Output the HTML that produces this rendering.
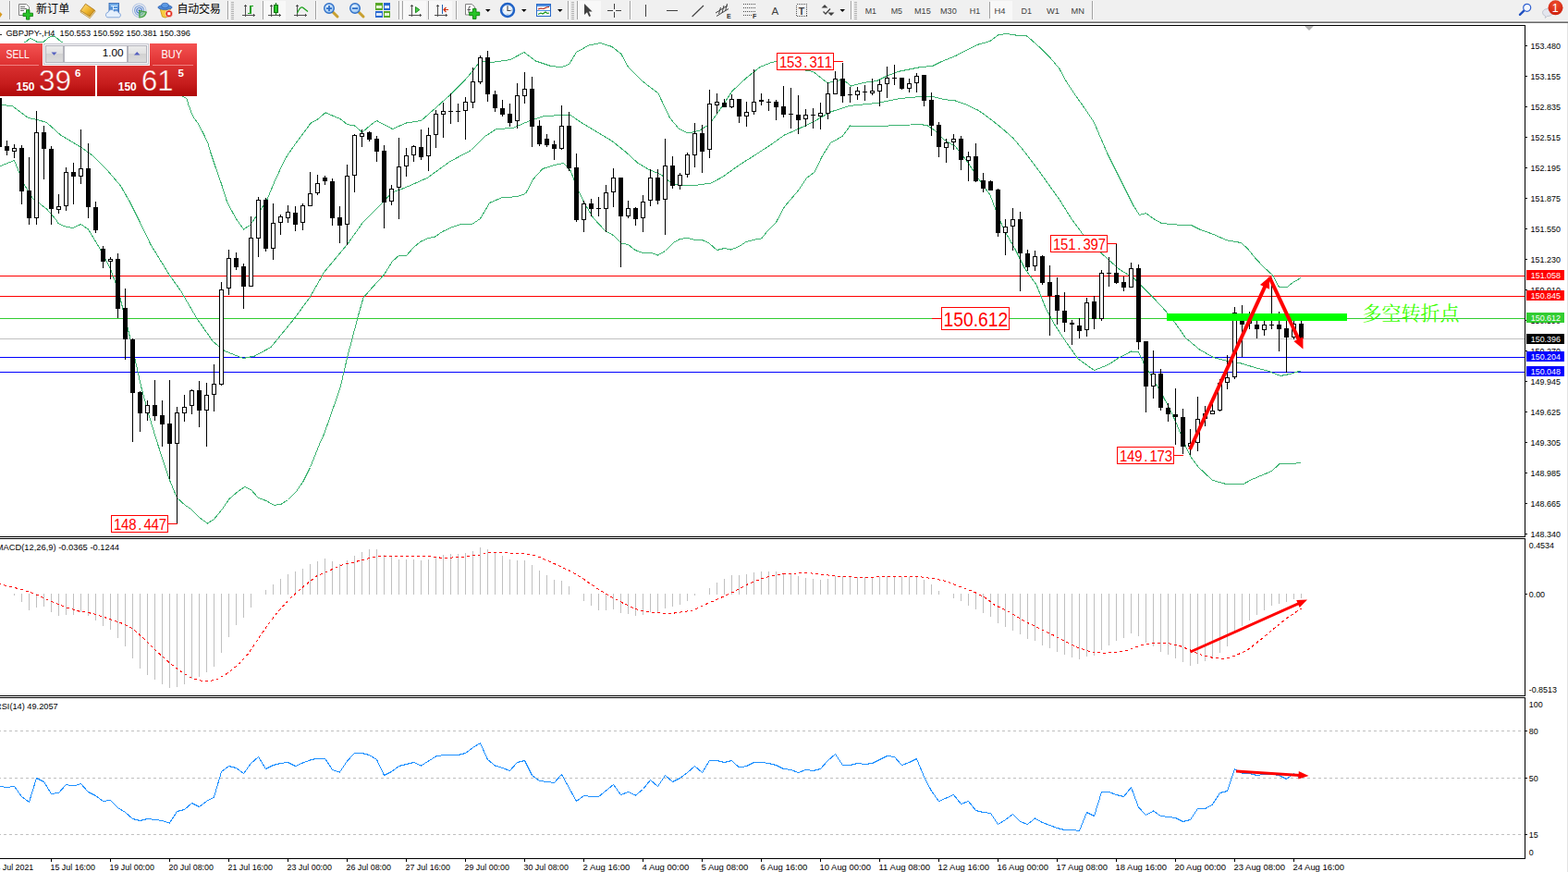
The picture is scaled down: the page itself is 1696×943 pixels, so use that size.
<!DOCTYPE html><html><head><meta charset="utf-8"><title>GBPJPY H4</title>
<style>html,body{margin:0;padding:0;background:#fff;overflow:hidden}body{width:1696px;height:943px;position:relative;font-family:"Liberation Sans",sans-serif}text{font-family:"Liberation Sans",sans-serif}</style></head><body>
<svg width="1696" height="943" viewBox="0 0 1696 943" style="position:absolute;left:0;top:0;font-family:'Liberation Sans',sans-serif">
<defs><clipPath id="cm"><rect x="0" y="28" width="1649" height="552"/></clipPath><clipPath id="c2"><rect x="0" y="583" width="1649" height="169"/></clipPath><clipPath id="c3"><rect x="0" y="755" width="1649" height="173"/></clipPath></defs>
<g shape-rendering="crispEdges">
<rect x="0" y="27" width="1650" height="1" fill="#000"/>
<rect x="1649" y="27" width="1" height="902" fill="#000"/>
<rect x="0" y="580" width="1650" height="1" fill="#000"/>
<rect x="0" y="582" width="1650" height="1" fill="#000"/>
<rect x="0" y="752" width="1650" height="1" fill="#000"/>
<rect x="0" y="754" width="1650" height="1" fill="#000"/>
<rect x="0" y="928" width="1650" height="1" fill="#000"/>
<rect x="0" y="581" width="1651" height="1" fill="#fff"/>
<rect x="0" y="753" width="1651" height="1" fill="#fff"/>
<rect x="0" y="298" width="1649" height="1" fill="#ff0000"/>
<rect x="0" y="320" width="1649" height="1" fill="#ff0000"/>
<rect x="0" y="344" width="1649" height="1" fill="#32cd32"/>
<rect x="0" y="366" width="1649" height="1" fill="#c0c0c0"/>
<rect x="0" y="386" width="1649" height="1" fill="#0000ff"/>
<rect x="0" y="402" width="1649" height="1" fill="#0000ff"/>
</g>
<g clip-path="url(#cm)" fill="none" stroke="#3cb371" stroke-width="1" shape-rendering="crispEdges">
<polyline points="-1.5,50.5 20.5,48.5 27.5,45.5 32.5,41.5 35.5,42.5 39.5,45.0 47.5,45.0 52.5,40.5 56.5,39.0 59.5,39.5 66.5,45.5 75.5,50.5 100.5,56.5 150.5,76.5 201.8,106.5 204.2,114.2 207.5,123.0 209.2,126.8 214.2,133.5 219.9,144.2 224.9,154.9 228.0,165.5 233.0,180.5 239.2,198.0 245.5,218.0 248.0,223.0 255.5,236.8 263.5,248.0 270.5,243.5 279.5,230.5 288.5,216.8 296.8,196.8 305.5,178.0 310.5,168.5 320.5,154.2 328.0,144.2 336.1,133.2 343.0,129.5 352.1,121.8 359.2,124.9 368.0,128.5 375.5,134.5 383.5,135.9 391.8,143.0 402.2,134.2 407.5,130.5 424.5,139.5 439.5,133.0 455.5,130.5 472.0,116.0 487.0,102.5 502.0,87.5 512.0,76.0 519.5,66.0 532.0,67.5 552.0,64.5 567.0,56.5 579.5,66.0 594.5,71.0 607.0,73.0 615.5,69.5 623.5,56.5 637.0,49.0 649.5,46.5 662.0,50.5 672.0,58.5 679.5,72.5 694.5,87.5 712.0,101.0 724.5,127.5 734.5,139.5 744.5,144.0 757.0,141.0 767.0,134.5 777.0,121.0 792.0,98.5 807.0,84.5 822.0,72.5 834.5,67.5 840.0,66.5 855.5,70.5 871.0,76.0 879.5,77.5 888.5,84.5 894.5,89.5 901.5,88.5 909.0,86.5 915.0,88.5 920.5,93.0 933.5,89.5 948.5,87.5 958.5,82.5 971.0,77.5 986.0,74.5 996.0,72.5 1008.5,71.5 1018.5,66.5 1033.5,60.5 1046.0,54.0 1058.5,48.0 1071.0,44.5 1079.5,38.0 1088.5,36.5 1098.5,38.0 1109.5,38.0 1116.0,43.5 1126.0,52.5 1136.0,62.5 1146.0,74.5 1153.5,88.5 1163.5,103.5 1173.5,117.5 1183.5,132.5 1188.5,144.5 1198.5,167.5 1208.5,187.5 1218.5,207.5 1226.0,222.5 1232.5,232.5 1239.5,230.5 1247.5,236.5 1256.5,241.5 1272.5,243.0 1288.5,243.5 1297.5,248.0 1312.5,253.5 1327.5,260.0 1342.5,262.5 1350.0,269.5 1358.5,280.0 1367.5,289.5 1376.5,297.5 1383.5,310.5 1391.5,311.0 1398.5,305.5 1407.0,300.5"/>
<polyline points="-1.5,112.5 0.5,113.5 13.0,114.5 30.5,127.5 40.5,129.5 50.5,132.5 65.5,146.0 88.0,159.5 100.5,168.5 115.5,183.5 130.5,201.0 140.5,218.5 150.5,238.5 163.0,264.5 183.0,297.0 195.5,314.5 213.0,344.5 230.5,369.5 243.0,379.5 263.0,387.5 275.5,385.0 293.0,375.5 318.0,345.0 335.5,321.0 350.5,294.5 375.5,264.5 392.5,240.5 410.5,222.5 424.5,208.0 437.0,203.5 462.0,192.5 487.0,174.5 509.5,162.5 524.5,147.5 537.0,139.5 554.5,138.5 572.0,131.0 587.0,126.0 604.5,124.5 617.0,124.5 629.5,133.0 647.0,143.5 662.0,152.5 677.0,164.5 689.5,176.0 702.0,183.5 714.5,188.5 727.0,198.5 739.5,201.0 752.0,200.5 769.5,198.0 782.0,191.0 799.5,178.5 817.0,167.5 834.5,156.0 848.5,146.0 863.5,139.5 881.0,131.0 898.5,121.0 918.5,114.5 948.5,111.5 973.5,106.5 996.0,104.5 1008.5,104.5 1021.0,107.5 1033.5,109.0 1046.0,113.5 1058.5,119.5 1071.0,128.5 1083.5,138.5 1096.0,149.5 1108.5,164.5 1121.0,181.0 1133.5,198.5 1146.0,216.0 1158.5,236.0 1171.0,253.0 1183.5,266.5 1198.5,280.5 1211.0,291.5 1226.0,300.5 1236.0,310.5 1248.5,323.0 1261.0,336.5 1272.0,350.5 1282.5,365.5 1297.5,378.0 1312.5,386.5 1327.5,390.5 1342.5,393.0 1357.5,397.5 1372.5,401.5 1385.0,406.5 1395.0,404.5 1407.0,401.0"/>
<polyline points="-1.5,180.5 0.5,179.5 15.5,173.5 25.5,198.5 35.5,214.5 50.5,226.0 60.5,237.5 63.0,241.5 70.5,245.0 79.2,246.5 87.5,242.5 95.5,248.0 101.5,258.0 109.5,271.5 118.0,288.0 120.5,293.5 128.0,314.5 135.5,344.5 140.5,364.5 148.0,397.0 153.0,419.5 160.5,447.0 168.0,472.0 175.5,495.5 183.0,518.0 191.5,538.5 200.5,546.5 206.5,550.5 215.5,559.5 224.5,566.0 231.5,561.5 240.5,550.5 248.0,539.5 255.5,533.0 264.5,526.5 271.5,529.5 279.5,538.5 288.0,541.5 296.5,546.5 304.5,545.0 311.5,540.5 320.5,531.5 328.0,520.5 335.5,505.5 345.5,480.5 350.5,469.5 368.0,419.5 375.5,387.0 388.0,339.5 393.0,322.0 403.0,310.5 415.5,297.0 424.5,282.5 432.0,276.0 440.0,276.0 447.0,268.0 454.5,261.5 462.0,258.0 470.5,256.0 478.5,250.5 487.0,246.5 497.0,243.0 510.5,242.5 519.5,236.5 529.5,219.5 542.0,214.0 559.5,212.5 568.5,209.5 577.0,193.5 587.0,182.5 599.5,178.5 609.5,176.5 617.0,184.5 624.5,203.5 632.0,219.5 642.0,236.0 654.5,249.5 663.5,254.5 672.0,263.0 679.5,264.5 687.0,270.5 695.5,273.5 704.5,273.5 711.5,276.0 719.5,271.5 728.5,262.5 735.5,258.5 743.5,257.5 752.0,259.5 759.5,259.5 767.0,263.0 775.5,270.5 783.5,268.5 790.5,270.0 799.5,266.5 807.0,261.5 814.5,259.5 823.5,258.0 830.5,249.5 839.5,240.5 848.5,223.5 863.5,206.0 872.5,192.5 881.0,186.0 889.5,168.5 898.5,154.5 911.0,147.5 919.5,136.0 948.5,136.5 973.5,135.5 996.0,134.5 1003.5,136.0 1011.0,141.0 1021.0,151.0 1033.5,158.5 1046.0,174.5 1058.5,193.5 1071.0,211.0 1078.5,231.0 1086.0,248.5 1098.5,270.5 1108.5,290.5 1121.0,308.0 1131.0,333.0 1141.0,351.5 1153.5,370.5 1166.0,388.0 1183.5,400.5 1198.5,394.5 1211.0,386.5 1223.5,380.0 1231.0,380.5 1235.0,387.5 1238.0,395.5 1243.1,402.5 1249.9,414.5 1258.5,429.5 1265.2,442.5 1271.9,456.5 1278.7,473.5 1283.8,485.5 1288.1,494.2 1295.7,504.5 1304.2,512.8 1311.8,519.5 1319.5,521.7 1327.9,523.9 1344.0,523.9 1353.5,518.8 1363.5,514.5 1375.5,509.5 1383.9,501.8 1397.5,501.5 1407.3,500.5"/>
</g>
<g clip-path="url(#cm)" shape-rendering="crispEdges">
<rect x="-1" y="100" width="1" height="65" fill="#000"/>
<rect x="-3" y="106" width="5" height="53" fill="#000"/>
<rect x="7" y="152" width="1" height="16" fill="#000"/>
<rect x="5" y="158" width="5" height="5" fill="#000"/>
<rect x="15" y="156" width="1" height="15" fill="#000"/>
<rect x="13" y="160" width="5" height="4" fill="#000"/>
<rect x="14" y="161" width="3" height="2" fill="#fff"/>
<rect x="23" y="157" width="1" height="64" fill="#000"/>
<rect x="21" y="160" width="5" height="47" fill="#000"/>
<rect x="31" y="170" width="1" height="73" fill="#000"/>
<rect x="29" y="206" width="5" height="30" fill="#000"/>
<rect x="39" y="120" width="1" height="123" fill="#000"/>
<rect x="37" y="143" width="5" height="93" fill="#000"/>
<rect x="38" y="144" width="3" height="91" fill="#fff"/>
<rect x="47" y="136" width="1" height="58" fill="#000"/>
<rect x="45" y="143" width="5" height="18" fill="#000"/>
<rect x="55" y="158" width="1" height="85" fill="#000"/>
<rect x="53" y="161" width="5" height="65" fill="#000"/>
<rect x="63" y="210" width="1" height="21" fill="#000"/>
<rect x="61" y="223" width="5" height="4" fill="#000"/>
<rect x="62" y="224" width="3" height="2" fill="#fff"/>
<rect x="71" y="181" width="1" height="47" fill="#000"/>
<rect x="69" y="186" width="5" height="37" fill="#000"/>
<rect x="70" y="187" width="3" height="35" fill="#fff"/>
<rect x="79" y="176" width="1" height="45" fill="#000"/>
<rect x="77" y="186" width="5" height="5" fill="#000"/>
<rect x="87" y="140" width="1" height="59" fill="#000"/>
<rect x="85" y="182" width="5" height="9" fill="#000"/>
<rect x="86" y="183" width="3" height="7" fill="#fff"/>
<rect x="95" y="155" width="1" height="81" fill="#000"/>
<rect x="93" y="182" width="5" height="42" fill="#000"/>
<rect x="103" y="218" width="1" height="34" fill="#000"/>
<rect x="101" y="224" width="5" height="25" fill="#000"/>
<rect x="111" y="266" width="1" height="24" fill="#000"/>
<rect x="109" y="269" width="5" height="14" fill="#000"/>
<rect x="119" y="278" width="1" height="24" fill="#000"/>
<rect x="117" y="280" width="5" height="3" fill="#000"/>
<rect x="118" y="281" width="3" height="1" fill="#fff"/>
<rect x="127" y="274" width="1" height="70" fill="#000"/>
<rect x="125" y="280" width="5" height="54" fill="#000"/>
<rect x="135" y="312" width="1" height="77" fill="#000"/>
<rect x="133" y="333" width="5" height="34" fill="#000"/>
<rect x="143" y="366" width="1" height="112" fill="#000"/>
<rect x="141" y="367" width="5" height="58" fill="#000"/>
<rect x="151" y="423" width="1" height="44" fill="#000"/>
<rect x="149" y="424" width="5" height="23" fill="#000"/>
<rect x="159" y="433" width="1" height="22" fill="#000"/>
<rect x="157" y="438" width="5" height="9" fill="#000"/>
<rect x="158" y="439" width="3" height="7" fill="#fff"/>
<rect x="167" y="411" width="1" height="44" fill="#000"/>
<rect x="165" y="438" width="5" height="12" fill="#000"/>
<rect x="175" y="433" width="1" height="50" fill="#000"/>
<rect x="173" y="449" width="5" height="10" fill="#000"/>
<rect x="183" y="411" width="1" height="107" fill="#000"/>
<rect x="181" y="458" width="5" height="22" fill="#000"/>
<rect x="191" y="440" width="1" height="126" fill="#000"/>
<rect x="189" y="446" width="5" height="34" fill="#000"/>
<rect x="190" y="447" width="3" height="32" fill="#fff"/>
<rect x="199" y="427" width="1" height="29" fill="#000"/>
<rect x="197" y="440" width="5" height="7" fill="#000"/>
<rect x="198" y="441" width="3" height="5" fill="#fff"/>
<rect x="207" y="421" width="1" height="27" fill="#000"/>
<rect x="205" y="422" width="5" height="17" fill="#000"/>
<rect x="206" y="423" width="3" height="15" fill="#fff"/>
<rect x="215" y="412" width="1" height="50" fill="#000"/>
<rect x="213" y="422" width="5" height="22" fill="#000"/>
<rect x="223" y="414" width="1" height="69" fill="#000"/>
<rect x="221" y="427" width="5" height="17" fill="#000"/>
<rect x="222" y="428" width="3" height="15" fill="#fff"/>
<rect x="231" y="394" width="1" height="51" fill="#000"/>
<rect x="229" y="415" width="5" height="12" fill="#000"/>
<rect x="230" y="416" width="3" height="10" fill="#fff"/>
<rect x="239" y="305" width="1" height="112" fill="#000"/>
<rect x="237" y="313" width="5" height="103" fill="#000"/>
<rect x="238" y="314" width="3" height="101" fill="#fff"/>
<rect x="247" y="270" width="1" height="49" fill="#000"/>
<rect x="245" y="279" width="5" height="33" fill="#000"/>
<rect x="246" y="280" width="3" height="31" fill="#fff"/>
<rect x="255" y="273" width="1" height="19" fill="#000"/>
<rect x="253" y="279" width="5" height="10" fill="#000"/>
<rect x="263" y="285" width="1" height="49" fill="#000"/>
<rect x="261" y="288" width="5" height="22" fill="#000"/>
<rect x="271" y="234" width="1" height="76" fill="#000"/>
<rect x="269" y="257" width="5" height="53" fill="#000"/>
<rect x="270" y="258" width="3" height="51" fill="#fff"/>
<rect x="279" y="213" width="1" height="65" fill="#000"/>
<rect x="277" y="216" width="5" height="42" fill="#000"/>
<rect x="278" y="217" width="3" height="40" fill="#fff"/>
<rect x="287" y="214" width="1" height="58" fill="#000"/>
<rect x="285" y="216" width="5" height="53" fill="#000"/>
<rect x="295" y="220" width="1" height="61" fill="#000"/>
<rect x="293" y="241" width="5" height="28" fill="#000"/>
<rect x="294" y="242" width="3" height="26" fill="#fff"/>
<rect x="303" y="232" width="1" height="22" fill="#000"/>
<rect x="301" y="234" width="5" height="7" fill="#000"/>
<rect x="302" y="235" width="3" height="5" fill="#fff"/>
<rect x="311" y="222" width="1" height="19" fill="#000"/>
<rect x="309" y="229" width="5" height="7" fill="#000"/>
<rect x="310" y="230" width="3" height="5" fill="#fff"/>
<rect x="319" y="223" width="1" height="27" fill="#000"/>
<rect x="317" y="230" width="5" height="13" fill="#000"/>
<rect x="327" y="220" width="1" height="29" fill="#000"/>
<rect x="325" y="222" width="5" height="19" fill="#000"/>
<rect x="326" y="223" width="3" height="17" fill="#fff"/>
<rect x="335" y="186" width="1" height="37" fill="#000"/>
<rect x="333" y="209" width="5" height="14" fill="#000"/>
<rect x="334" y="210" width="3" height="12" fill="#fff"/>
<rect x="343" y="189" width="1" height="22" fill="#000"/>
<rect x="341" y="198" width="5" height="11" fill="#000"/>
<rect x="342" y="199" width="3" height="9" fill="#fff"/>
<rect x="351" y="190" width="1" height="10" fill="#000"/>
<rect x="349" y="192" width="5" height="4" fill="#000"/>
<rect x="359" y="193" width="1" height="51" fill="#000"/>
<rect x="357" y="196" width="5" height="40" fill="#000"/>
<rect x="367" y="223" width="1" height="40" fill="#000"/>
<rect x="365" y="235" width="5" height="9" fill="#000"/>
<rect x="375" y="178" width="1" height="87" fill="#000"/>
<rect x="373" y="190" width="5" height="53" fill="#000"/>
<rect x="374" y="191" width="3" height="51" fill="#fff"/>
<rect x="383" y="145" width="1" height="63" fill="#000"/>
<rect x="381" y="146" width="5" height="44" fill="#000"/>
<rect x="382" y="147" width="3" height="42" fill="#fff"/>
<rect x="391" y="140" width="1" height="19" fill="#000"/>
<rect x="389" y="144" width="5" height="4" fill="#000"/>
<rect x="390" y="145" width="3" height="2" fill="#fff"/>
<rect x="399" y="142" width="1" height="11" fill="#000"/>
<rect x="397" y="143" width="5" height="8" fill="#000"/>
<rect x="407" y="147" width="1" height="28" fill="#000"/>
<rect x="405" y="150" width="5" height="14" fill="#000"/>
<rect x="415" y="157" width="1" height="90" fill="#000"/>
<rect x="413" y="163" width="5" height="56" fill="#000"/>
<rect x="423" y="200" width="1" height="22" fill="#000"/>
<rect x="421" y="204" width="5" height="14" fill="#000"/>
<rect x="422" y="205" width="3" height="12" fill="#fff"/>
<rect x="431" y="149" width="1" height="88" fill="#000"/>
<rect x="429" y="180" width="5" height="23" fill="#000"/>
<rect x="430" y="181" width="3" height="21" fill="#fff"/>
<rect x="439" y="160" width="1" height="31" fill="#000"/>
<rect x="437" y="168" width="5" height="12" fill="#000"/>
<rect x="438" y="169" width="3" height="10" fill="#fff"/>
<rect x="447" y="157" width="1" height="18" fill="#000"/>
<rect x="445" y="158" width="5" height="10" fill="#000"/>
<rect x="446" y="159" width="3" height="8" fill="#fff"/>
<rect x="455" y="140" width="1" height="33" fill="#000"/>
<rect x="453" y="159" width="5" height="11" fill="#000"/>
<rect x="463" y="138" width="1" height="47" fill="#000"/>
<rect x="461" y="146" width="5" height="23" fill="#000"/>
<rect x="462" y="147" width="3" height="21" fill="#fff"/>
<rect x="471" y="119" width="1" height="41" fill="#000"/>
<rect x="469" y="123" width="5" height="23" fill="#000"/>
<rect x="470" y="124" width="3" height="21" fill="#fff"/>
<rect x="479" y="111" width="1" height="38" fill="#000"/>
<rect x="477" y="120" width="5" height="4" fill="#000"/>
<rect x="478" y="121" width="3" height="2" fill="#fff"/>
<rect x="487" y="101" width="1" height="33" fill="#000"/>
<rect x="485" y="120" width="5" height="1" fill="#000"/>
<rect x="495" y="112" width="1" height="20" fill="#000"/>
<rect x="493" y="120" width="5" height="1" fill="#000"/>
<rect x="503" y="105" width="1" height="46" fill="#000"/>
<rect x="501" y="110" width="5" height="10" fill="#000"/>
<rect x="502" y="111" width="3" height="8" fill="#fff"/>
<rect x="511" y="73" width="1" height="44" fill="#000"/>
<rect x="509" y="88" width="5" height="23" fill="#000"/>
<rect x="510" y="89" width="3" height="21" fill="#fff"/>
<rect x="519" y="60" width="1" height="31" fill="#000"/>
<rect x="517" y="62" width="5" height="27" fill="#000"/>
<rect x="518" y="63" width="3" height="25" fill="#fff"/>
<rect x="527" y="55" width="1" height="55" fill="#000"/>
<rect x="525" y="62" width="5" height="40" fill="#000"/>
<rect x="535" y="98" width="1" height="23" fill="#000"/>
<rect x="533" y="102" width="5" height="15" fill="#000"/>
<rect x="543" y="108" width="1" height="18" fill="#000"/>
<rect x="541" y="117" width="5" height="7" fill="#000"/>
<rect x="551" y="112" width="1" height="25" fill="#000"/>
<rect x="549" y="123" width="5" height="10" fill="#000"/>
<rect x="559" y="90" width="1" height="49" fill="#000"/>
<rect x="557" y="103" width="5" height="28" fill="#000"/>
<rect x="558" y="104" width="3" height="26" fill="#fff"/>
<rect x="567" y="78" width="1" height="34" fill="#000"/>
<rect x="565" y="96" width="5" height="8" fill="#000"/>
<rect x="566" y="97" width="3" height="6" fill="#fff"/>
<rect x="575" y="83" width="1" height="76" fill="#000"/>
<rect x="573" y="96" width="5" height="41" fill="#000"/>
<rect x="583" y="130" width="1" height="28" fill="#000"/>
<rect x="581" y="136" width="5" height="20" fill="#000"/>
<rect x="591" y="145" width="1" height="14" fill="#000"/>
<rect x="589" y="150" width="5" height="7" fill="#000"/>
<rect x="599" y="152" width="1" height="21" fill="#000"/>
<rect x="597" y="156" width="5" height="5" fill="#000"/>
<rect x="607" y="114" width="1" height="48" fill="#000"/>
<rect x="605" y="136" width="5" height="25" fill="#000"/>
<rect x="606" y="137" width="3" height="23" fill="#fff"/>
<rect x="615" y="121" width="1" height="64" fill="#000"/>
<rect x="613" y="136" width="5" height="46" fill="#000"/>
<rect x="623" y="166" width="1" height="74" fill="#000"/>
<rect x="621" y="181" width="5" height="57" fill="#000"/>
<rect x="631" y="217" width="1" height="34" fill="#000"/>
<rect x="629" y="220" width="5" height="18" fill="#000"/>
<rect x="630" y="221" width="3" height="16" fill="#fff"/>
<rect x="639" y="215" width="1" height="19" fill="#000"/>
<rect x="637" y="220" width="5" height="6" fill="#000"/>
<rect x="647" y="213" width="1" height="21" fill="#000"/>
<rect x="645" y="225" width="5" height="1" fill="#000"/>
<rect x="655" y="200" width="1" height="51" fill="#000"/>
<rect x="653" y="208" width="5" height="18" fill="#000"/>
<rect x="654" y="209" width="3" height="16" fill="#fff"/>
<rect x="663" y="182" width="1" height="42" fill="#000"/>
<rect x="661" y="192" width="5" height="16" fill="#000"/>
<rect x="662" y="193" width="3" height="14" fill="#fff"/>
<rect x="671" y="192" width="1" height="97" fill="#000"/>
<rect x="669" y="192" width="5" height="42" fill="#000"/>
<rect x="679" y="217" width="1" height="19" fill="#000"/>
<rect x="677" y="225" width="5" height="9" fill="#000"/>
<rect x="678" y="226" width="3" height="7" fill="#fff"/>
<rect x="687" y="224" width="1" height="20" fill="#000"/>
<rect x="685" y="225" width="5" height="12" fill="#000"/>
<rect x="695" y="211" width="1" height="40" fill="#000"/>
<rect x="693" y="218" width="5" height="18" fill="#000"/>
<rect x="694" y="219" width="3" height="16" fill="#fff"/>
<rect x="703" y="183" width="1" height="40" fill="#000"/>
<rect x="701" y="192" width="5" height="25" fill="#000"/>
<rect x="702" y="193" width="3" height="23" fill="#fff"/>
<rect x="711" y="183" width="1" height="38" fill="#000"/>
<rect x="709" y="192" width="5" height="25" fill="#000"/>
<rect x="719" y="150" width="1" height="104" fill="#000"/>
<rect x="717" y="179" width="5" height="37" fill="#000"/>
<rect x="718" y="180" width="3" height="35" fill="#fff"/>
<rect x="727" y="169" width="1" height="35" fill="#000"/>
<rect x="725" y="179" width="5" height="22" fill="#000"/>
<rect x="735" y="187" width="1" height="18" fill="#000"/>
<rect x="733" y="189" width="5" height="12" fill="#000"/>
<rect x="734" y="190" width="3" height="10" fill="#fff"/>
<rect x="743" y="165" width="1" height="27" fill="#000"/>
<rect x="741" y="167" width="5" height="22" fill="#000"/>
<rect x="742" y="168" width="3" height="20" fill="#fff"/>
<rect x="751" y="133" width="1" height="48" fill="#000"/>
<rect x="749" y="144" width="5" height="24" fill="#000"/>
<rect x="750" y="145" width="3" height="22" fill="#fff"/>
<rect x="759" y="135" width="1" height="52" fill="#000"/>
<rect x="757" y="144" width="5" height="20" fill="#000"/>
<rect x="767" y="97" width="1" height="74" fill="#000"/>
<rect x="765" y="112" width="5" height="50" fill="#000"/>
<rect x="766" y="113" width="3" height="48" fill="#fff"/>
<rect x="775" y="101" width="1" height="22" fill="#000"/>
<rect x="773" y="110" width="5" height="4" fill="#000"/>
<rect x="774" y="111" width="3" height="2" fill="#fff"/>
<rect x="783" y="107" width="1" height="9" fill="#000"/>
<rect x="781" y="111" width="5" height="5" fill="#000"/>
<rect x="791" y="102" width="1" height="15" fill="#000"/>
<rect x="789" y="107" width="5" height="9" fill="#000"/>
<rect x="790" y="108" width="3" height="7" fill="#fff"/>
<rect x="799" y="107" width="1" height="26" fill="#000"/>
<rect x="797" y="107" width="5" height="19" fill="#000"/>
<rect x="807" y="110" width="1" height="27" fill="#000"/>
<rect x="805" y="121" width="5" height="5" fill="#000"/>
<rect x="806" y="122" width="3" height="3" fill="#fff"/>
<rect x="815" y="75" width="1" height="49" fill="#000"/>
<rect x="813" y="110" width="5" height="11" fill="#000"/>
<rect x="814" y="111" width="3" height="9" fill="#fff"/>
<rect x="823" y="101" width="1" height="13" fill="#000"/>
<rect x="821" y="108" width="5" height="2" fill="#000"/>
<rect x="831" y="107" width="1" height="13" fill="#000"/>
<rect x="829" y="110" width="5" height="1" fill="#000"/>
<rect x="839" y="108" width="1" height="22" fill="#000"/>
<rect x="837" y="110" width="5" height="6" fill="#000"/>
<rect x="847" y="93" width="1" height="34" fill="#000"/>
<rect x="845" y="115" width="5" height="9" fill="#000"/>
<rect x="855" y="95" width="1" height="44" fill="#000"/>
<rect x="853" y="123" width="5" height="1" fill="#000"/>
<rect x="863" y="103" width="1" height="42" fill="#000"/>
<rect x="861" y="124" width="5" height="6" fill="#000"/>
<rect x="871" y="118" width="1" height="19" fill="#000"/>
<rect x="869" y="124" width="5" height="5" fill="#000"/>
<rect x="870" y="125" width="3" height="3" fill="#fff"/>
<rect x="879" y="117" width="1" height="22" fill="#000"/>
<rect x="877" y="124" width="5" height="1" fill="#000"/>
<rect x="887" y="111" width="1" height="29" fill="#000"/>
<rect x="885" y="122" width="5" height="4" fill="#000"/>
<rect x="886" y="123" width="3" height="2" fill="#fff"/>
<rect x="895" y="89" width="1" height="40" fill="#000"/>
<rect x="893" y="101" width="5" height="22" fill="#000"/>
<rect x="894" y="102" width="3" height="20" fill="#fff"/>
<rect x="903" y="77" width="1" height="25" fill="#000"/>
<rect x="901" y="85" width="5" height="17" fill="#000"/>
<rect x="902" y="86" width="3" height="15" fill="#fff"/>
<rect x="911" y="68" width="1" height="43" fill="#000"/>
<rect x="909" y="85" width="5" height="19" fill="#000"/>
<rect x="919" y="94" width="1" height="17" fill="#000"/>
<rect x="917" y="102" width="5" height="1" fill="#000"/>
<rect x="927" y="94" width="1" height="14" fill="#000"/>
<rect x="925" y="98" width="5" height="5" fill="#000"/>
<rect x="926" y="99" width="3" height="3" fill="#fff"/>
<rect x="935" y="92" width="1" height="17" fill="#000"/>
<rect x="933" y="99" width="5" height="1" fill="#000"/>
<rect x="943" y="85" width="1" height="18" fill="#000"/>
<rect x="941" y="98" width="5" height="3" fill="#000"/>
<rect x="942" y="99" width="3" height="1" fill="#fff"/>
<rect x="951" y="86" width="1" height="29" fill="#000"/>
<rect x="949" y="91" width="5" height="8" fill="#000"/>
<rect x="950" y="92" width="3" height="6" fill="#fff"/>
<rect x="959" y="72" width="1" height="34" fill="#000"/>
<rect x="957" y="84" width="5" height="7" fill="#000"/>
<rect x="958" y="85" width="3" height="5" fill="#fff"/>
<rect x="967" y="70" width="1" height="22" fill="#000"/>
<rect x="965" y="84" width="5" height="1" fill="#000"/>
<rect x="975" y="84" width="1" height="13" fill="#000"/>
<rect x="973" y="84" width="5" height="12" fill="#000"/>
<rect x="983" y="85" width="1" height="15" fill="#000"/>
<rect x="981" y="90" width="5" height="6" fill="#000"/>
<rect x="982" y="91" width="3" height="4" fill="#fff"/>
<rect x="991" y="79" width="1" height="21" fill="#000"/>
<rect x="989" y="82" width="5" height="8" fill="#000"/>
<rect x="990" y="83" width="3" height="6" fill="#fff"/>
<rect x="999" y="81" width="1" height="34" fill="#000"/>
<rect x="997" y="81" width="5" height="28" fill="#000"/>
<rect x="1007" y="100" width="1" height="47" fill="#000"/>
<rect x="1005" y="108" width="5" height="28" fill="#000"/>
<rect x="1015" y="132" width="1" height="38" fill="#000"/>
<rect x="1013" y="135" width="5" height="24" fill="#000"/>
<rect x="1023" y="150" width="1" height="26" fill="#000"/>
<rect x="1021" y="154" width="5" height="6" fill="#000"/>
<rect x="1022" y="155" width="3" height="4" fill="#fff"/>
<rect x="1031" y="145" width="1" height="17" fill="#000"/>
<rect x="1029" y="150" width="5" height="4" fill="#000"/>
<rect x="1030" y="151" width="3" height="2" fill="#fff"/>
<rect x="1039" y="147" width="1" height="37" fill="#000"/>
<rect x="1037" y="150" width="5" height="23" fill="#000"/>
<rect x="1047" y="164" width="1" height="32" fill="#000"/>
<rect x="1045" y="169" width="5" height="5" fill="#000"/>
<rect x="1046" y="170" width="3" height="3" fill="#fff"/>
<rect x="1055" y="155" width="1" height="42" fill="#000"/>
<rect x="1053" y="169" width="5" height="27" fill="#000"/>
<rect x="1063" y="187" width="1" height="21" fill="#000"/>
<rect x="1061" y="195" width="5" height="9" fill="#000"/>
<rect x="1071" y="195" width="1" height="11" fill="#000"/>
<rect x="1069" y="196" width="5" height="10" fill="#000"/>
<rect x="1079" y="204" width="1" height="52" fill="#000"/>
<rect x="1077" y="205" width="5" height="47" fill="#000"/>
<rect x="1087" y="237" width="1" height="39" fill="#000"/>
<rect x="1085" y="245" width="5" height="7" fill="#000"/>
<rect x="1086" y="246" width="3" height="5" fill="#fff"/>
<rect x="1095" y="225" width="1" height="46" fill="#000"/>
<rect x="1093" y="237" width="5" height="8" fill="#000"/>
<rect x="1094" y="238" width="3" height="6" fill="#fff"/>
<rect x="1103" y="229" width="1" height="86" fill="#000"/>
<rect x="1101" y="237" width="5" height="37" fill="#000"/>
<rect x="1111" y="270" width="1" height="23" fill="#000"/>
<rect x="1109" y="274" width="5" height="15" fill="#000"/>
<rect x="1119" y="271" width="1" height="22" fill="#000"/>
<rect x="1117" y="277" width="5" height="11" fill="#000"/>
<rect x="1118" y="278" width="3" height="9" fill="#fff"/>
<rect x="1127" y="276" width="1" height="32" fill="#000"/>
<rect x="1125" y="277" width="5" height="29" fill="#000"/>
<rect x="1135" y="287" width="1" height="76" fill="#000"/>
<rect x="1133" y="305" width="5" height="15" fill="#000"/>
<rect x="1143" y="300" width="1" height="51" fill="#000"/>
<rect x="1141" y="319" width="5" height="17" fill="#000"/>
<rect x="1151" y="316" width="1" height="43" fill="#000"/>
<rect x="1149" y="336" width="5" height="13" fill="#000"/>
<rect x="1159" y="346" width="1" height="27" fill="#000"/>
<rect x="1157" y="349" width="5" height="2" fill="#000"/>
<rect x="1167" y="344" width="1" height="22" fill="#000"/>
<rect x="1165" y="352" width="5" height="6" fill="#000"/>
<rect x="1175" y="322" width="1" height="42" fill="#000"/>
<rect x="1173" y="327" width="5" height="30" fill="#000"/>
<rect x="1174" y="328" width="3" height="28" fill="#fff"/>
<rect x="1183" y="320" width="1" height="36" fill="#000"/>
<rect x="1181" y="326" width="5" height="19" fill="#000"/>
<rect x="1191" y="292" width="1" height="55" fill="#000"/>
<rect x="1189" y="295" width="5" height="50" fill="#000"/>
<rect x="1190" y="296" width="3" height="48" fill="#fff"/>
<rect x="1199" y="278" width="1" height="32" fill="#000"/>
<rect x="1197" y="295" width="5" height="1" fill="#000"/>
<rect x="1207" y="263" width="1" height="44" fill="#000"/>
<rect x="1205" y="295" width="5" height="11" fill="#000"/>
<rect x="1215" y="299" width="1" height="16" fill="#000"/>
<rect x="1213" y="305" width="5" height="6" fill="#000"/>
<rect x="1223" y="284" width="1" height="27" fill="#000"/>
<rect x="1221" y="290" width="5" height="21" fill="#000"/>
<rect x="1222" y="291" width="3" height="19" fill="#fff"/>
<rect x="1231" y="286" width="1" height="92" fill="#000"/>
<rect x="1229" y="290" width="5" height="80" fill="#000"/>
<rect x="1239" y="369" width="1" height="77" fill="#000"/>
<rect x="1237" y="369" width="5" height="49" fill="#000"/>
<rect x="1247" y="379" width="1" height="52" fill="#000"/>
<rect x="1245" y="404" width="5" height="14" fill="#000"/>
<rect x="1246" y="405" width="3" height="12" fill="#fff"/>
<rect x="1255" y="399" width="1" height="45" fill="#000"/>
<rect x="1253" y="404" width="5" height="37" fill="#000"/>
<rect x="1263" y="436" width="1" height="20" fill="#000"/>
<rect x="1261" y="441" width="5" height="7" fill="#000"/>
<rect x="1271" y="420" width="1" height="61" fill="#000"/>
<rect x="1269" y="448" width="5" height="3" fill="#000"/>
<rect x="1279" y="442" width="1" height="49" fill="#000"/>
<rect x="1277" y="451" width="5" height="32" fill="#000"/>
<rect x="1287" y="464" width="1" height="28" fill="#000"/>
<rect x="1285" y="479" width="5" height="4" fill="#000"/>
<rect x="1286" y="480" width="3" height="2" fill="#fff"/>
<rect x="1295" y="429" width="1" height="59" fill="#000"/>
<rect x="1293" y="453" width="5" height="26" fill="#000"/>
<rect x="1294" y="454" width="3" height="24" fill="#fff"/>
<rect x="1303" y="439" width="1" height="22" fill="#000"/>
<rect x="1301" y="447" width="5" height="6" fill="#000"/>
<rect x="1302" y="448" width="3" height="4" fill="#fff"/>
<rect x="1311" y="437" width="1" height="11" fill="#000"/>
<rect x="1309" y="444" width="5" height="4" fill="#000"/>
<rect x="1310" y="445" width="3" height="2" fill="#fff"/>
<rect x="1319" y="410" width="1" height="35" fill="#000"/>
<rect x="1317" y="414" width="5" height="30" fill="#000"/>
<rect x="1318" y="415" width="3" height="28" fill="#fff"/>
<rect x="1327" y="384" width="1" height="37" fill="#000"/>
<rect x="1325" y="408" width="5" height="6" fill="#000"/>
<rect x="1326" y="409" width="3" height="4" fill="#fff"/>
<rect x="1335" y="332" width="1" height="78" fill="#000"/>
<rect x="1333" y="338" width="5" height="70" fill="#000"/>
<rect x="1334" y="339" width="3" height="68" fill="#fff"/>
<rect x="1343" y="330" width="1" height="56" fill="#000"/>
<rect x="1341" y="343" width="5" height="8" fill="#000"/>
<rect x="1351" y="337" width="1" height="19" fill="#000"/>
<rect x="1349" y="345" width="5" height="5" fill="#000"/>
<rect x="1350" y="346" width="3" height="3" fill="#fff"/>
<rect x="1359" y="347" width="1" height="19" fill="#000"/>
<rect x="1357" y="351" width="5" height="5" fill="#000"/>
<rect x="1367" y="347" width="1" height="16" fill="#000"/>
<rect x="1365" y="351" width="5" height="6" fill="#000"/>
<rect x="1366" y="352" width="3" height="4" fill="#fff"/>
<rect x="1375" y="300" width="1" height="56" fill="#000"/>
<rect x="1373" y="351" width="5" height="1" fill="#000"/>
<rect x="1383" y="337" width="1" height="43" fill="#000"/>
<rect x="1381" y="351" width="5" height="5" fill="#000"/>
<rect x="1391" y="347" width="1" height="56" fill="#000"/>
<rect x="1389" y="355" width="5" height="10" fill="#000"/>
<rect x="1399" y="347" width="1" height="20" fill="#000"/>
<rect x="1397" y="350" width="5" height="15" fill="#000"/>
<rect x="1398" y="351" width="3" height="13" fill="#fff"/>
<rect x="1407" y="347" width="1" height="19" fill="#000"/>
<rect x="1405" y="350" width="5" height="16" fill="#000"/>
</g>
<rect x="1262" y="339" width="195" height="8" fill="#00ff00" shape-rendering="crispEdges"/>
<g clip-path="url(#c2)" shape-rendering="crispEdges">
<rect x="15" y="642" width="1" height="2" fill="#c0c0c0"/>
<rect x="23" y="642" width="1" height="9" fill="#c0c0c0"/>
<rect x="31" y="642" width="1" height="18" fill="#c0c0c0"/>
<rect x="39" y="642" width="1" height="15" fill="#c0c0c0"/>
<rect x="47" y="642" width="1" height="14" fill="#c0c0c0"/>
<rect x="55" y="642" width="1" height="20" fill="#c0c0c0"/>
<rect x="63" y="642" width="1" height="24" fill="#c0c0c0"/>
<rect x="71" y="642" width="1" height="23" fill="#c0c0c0"/>
<rect x="79" y="642" width="1" height="23" fill="#c0c0c0"/>
<rect x="87" y="642" width="1" height="20" fill="#c0c0c0"/>
<rect x="95" y="642" width="1" height="24" fill="#c0c0c0"/>
<rect x="103" y="642" width="1" height="29" fill="#c0c0c0"/>
<rect x="111" y="642" width="1" height="35" fill="#c0c0c0"/>
<rect x="119" y="642" width="1" height="39" fill="#c0c0c0"/>
<rect x="127" y="642" width="1" height="48" fill="#c0c0c0"/>
<rect x="135" y="642" width="1" height="57" fill="#c0c0c0"/>
<rect x="143" y="642" width="1" height="70" fill="#c0c0c0"/>
<rect x="151" y="642" width="1" height="81" fill="#c0c0c0"/>
<rect x="159" y="642" width="1" height="88" fill="#c0c0c0"/>
<rect x="167" y="642" width="1" height="93" fill="#c0c0c0"/>
<rect x="175" y="642" width="1" height="98" fill="#c0c0c0"/>
<rect x="183" y="642" width="1" height="102" fill="#c0c0c0"/>
<rect x="191" y="642" width="1" height="101" fill="#c0c0c0"/>
<rect x="199" y="642" width="1" height="98" fill="#c0c0c0"/>
<rect x="207" y="642" width="1" height="92" fill="#c0c0c0"/>
<rect x="215" y="642" width="1" height="90" fill="#c0c0c0"/>
<rect x="223" y="642" width="1" height="85" fill="#c0c0c0"/>
<rect x="231" y="642" width="1" height="79" fill="#c0c0c0"/>
<rect x="239" y="642" width="1" height="64" fill="#c0c0c0"/>
<rect x="247" y="642" width="1" height="47" fill="#c0c0c0"/>
<rect x="255" y="642" width="1" height="34" fill="#c0c0c0"/>
<rect x="263" y="642" width="1" height="26" fill="#c0c0c0"/>
<rect x="271" y="642" width="1" height="15" fill="#c0c0c0"/>
<rect x="287" y="638" width="1" height="5" fill="#c0c0c0"/>
<rect x="295" y="632" width="1" height="11" fill="#c0c0c0"/>
<rect x="303" y="626" width="1" height="17" fill="#c0c0c0"/>
<rect x="311" y="621" width="1" height="22" fill="#c0c0c0"/>
<rect x="319" y="618" width="1" height="25" fill="#c0c0c0"/>
<rect x="327" y="615" width="1" height="28" fill="#c0c0c0"/>
<rect x="335" y="610" width="1" height="33" fill="#c0c0c0"/>
<rect x="343" y="607" width="1" height="36" fill="#c0c0c0"/>
<rect x="351" y="604" width="1" height="39" fill="#c0c0c0"/>
<rect x="359" y="607" width="1" height="36" fill="#c0c0c0"/>
<rect x="367" y="610" width="1" height="33" fill="#c0c0c0"/>
<rect x="375" y="606" width="1" height="37" fill="#c0c0c0"/>
<rect x="383" y="601" width="1" height="42" fill="#c0c0c0"/>
<rect x="391" y="597" width="1" height="46" fill="#c0c0c0"/>
<rect x="399" y="594" width="1" height="49" fill="#c0c0c0"/>
<rect x="407" y="594" width="1" height="49" fill="#c0c0c0"/>
<rect x="415" y="600" width="1" height="43" fill="#c0c0c0"/>
<rect x="423" y="601" width="1" height="42" fill="#c0c0c0"/>
<rect x="431" y="605" width="1" height="38" fill="#c0c0c0"/>
<rect x="439" y="605" width="1" height="38" fill="#c0c0c0"/>
<rect x="447" y="605" width="1" height="38" fill="#c0c0c0"/>
<rect x="455" y="606" width="1" height="37" fill="#c0c0c0"/>
<rect x="463" y="605" width="1" height="38" fill="#c0c0c0"/>
<rect x="471" y="603" width="1" height="40" fill="#c0c0c0"/>
<rect x="479" y="600" width="1" height="43" fill="#c0c0c0"/>
<rect x="487" y="599" width="1" height="44" fill="#c0c0c0"/>
<rect x="495" y="599" width="1" height="44" fill="#c0c0c0"/>
<rect x="503" y="598" width="1" height="45" fill="#c0c0c0"/>
<rect x="511" y="596" width="1" height="47" fill="#c0c0c0"/>
<rect x="519" y="592" width="1" height="51" fill="#c0c0c0"/>
<rect x="527" y="594" width="1" height="49" fill="#c0c0c0"/>
<rect x="535" y="597" width="1" height="46" fill="#c0c0c0"/>
<rect x="543" y="601" width="1" height="42" fill="#c0c0c0"/>
<rect x="551" y="605" width="1" height="38" fill="#c0c0c0"/>
<rect x="559" y="606" width="1" height="37" fill="#c0c0c0"/>
<rect x="567" y="606" width="1" height="37" fill="#c0c0c0"/>
<rect x="575" y="611" width="1" height="32" fill="#c0c0c0"/>
<rect x="583" y="617" width="1" height="26" fill="#c0c0c0"/>
<rect x="591" y="622" width="1" height="21" fill="#c0c0c0"/>
<rect x="599" y="627" width="1" height="16" fill="#c0c0c0"/>
<rect x="607" y="628" width="1" height="15" fill="#c0c0c0"/>
<rect x="615" y="634" width="1" height="9" fill="#c0c0c0"/>
<rect x="631" y="642" width="1" height="8" fill="#c0c0c0"/>
<rect x="639" y="642" width="1" height="13" fill="#c0c0c0"/>
<rect x="647" y="642" width="1" height="18" fill="#c0c0c0"/>
<rect x="655" y="642" width="1" height="18" fill="#c0c0c0"/>
<rect x="663" y="642" width="1" height="17" fill="#c0c0c0"/>
<rect x="671" y="642" width="1" height="21" fill="#c0c0c0"/>
<rect x="679" y="642" width="1" height="22" fill="#c0c0c0"/>
<rect x="687" y="642" width="1" height="24" fill="#c0c0c0"/>
<rect x="695" y="642" width="1" height="23" fill="#c0c0c0"/>
<rect x="703" y="642" width="1" height="20" fill="#c0c0c0"/>
<rect x="711" y="642" width="1" height="21" fill="#c0c0c0"/>
<rect x="719" y="642" width="1" height="16" fill="#c0c0c0"/>
<rect x="727" y="642" width="1" height="14" fill="#c0c0c0"/>
<rect x="735" y="642" width="1" height="12" fill="#c0c0c0"/>
<rect x="743" y="642" width="1" height="8" fill="#c0c0c0"/>
<rect x="751" y="642" width="1" height="2" fill="#c0c0c0"/>
<rect x="767" y="636" width="1" height="7" fill="#c0c0c0"/>
<rect x="775" y="630" width="1" height="13" fill="#c0c0c0"/>
<rect x="783" y="626" width="1" height="17" fill="#c0c0c0"/>
<rect x="791" y="622" width="1" height="21" fill="#c0c0c0"/>
<rect x="799" y="622" width="1" height="21" fill="#c0c0c0"/>
<rect x="807" y="621" width="1" height="22" fill="#c0c0c0"/>
<rect x="815" y="619" width="1" height="24" fill="#c0c0c0"/>
<rect x="823" y="618" width="1" height="25" fill="#c0c0c0"/>
<rect x="831" y="618" width="1" height="25" fill="#c0c0c0"/>
<rect x="839" y="618" width="1" height="25" fill="#c0c0c0"/>
<rect x="847" y="620" width="1" height="23" fill="#c0c0c0"/>
<rect x="855" y="621" width="1" height="22" fill="#c0c0c0"/>
<rect x="863" y="623" width="1" height="20" fill="#c0c0c0"/>
<rect x="871" y="625" width="1" height="18" fill="#c0c0c0"/>
<rect x="879" y="626" width="1" height="17" fill="#c0c0c0"/>
<rect x="887" y="627" width="1" height="16" fill="#c0c0c0"/>
<rect x="895" y="626" width="1" height="17" fill="#c0c0c0"/>
<rect x="903" y="623" width="1" height="20" fill="#c0c0c0"/>
<rect x="911" y="623" width="1" height="20" fill="#c0c0c0"/>
<rect x="919" y="623" width="1" height="20" fill="#c0c0c0"/>
<rect x="927" y="624" width="1" height="19" fill="#c0c0c0"/>
<rect x="935" y="624" width="1" height="19" fill="#c0c0c0"/>
<rect x="943" y="624" width="1" height="19" fill="#c0c0c0"/>
<rect x="951" y="624" width="1" height="19" fill="#c0c0c0"/>
<rect x="959" y="623" width="1" height="20" fill="#c0c0c0"/>
<rect x="967" y="623" width="1" height="20" fill="#c0c0c0"/>
<rect x="975" y="624" width="1" height="19" fill="#c0c0c0"/>
<rect x="983" y="624" width="1" height="19" fill="#c0c0c0"/>
<rect x="991" y="624" width="1" height="19" fill="#c0c0c0"/>
<rect x="999" y="627" width="1" height="16" fill="#c0c0c0"/>
<rect x="1007" y="632" width="1" height="11" fill="#c0c0c0"/>
<rect x="1015" y="639" width="1" height="4" fill="#c0c0c0"/>
<rect x="1031" y="642" width="1" height="5" fill="#c0c0c0"/>
<rect x="1039" y="642" width="1" height="8" fill="#c0c0c0"/>
<rect x="1047" y="642" width="1" height="13" fill="#c0c0c0"/>
<rect x="1055" y="642" width="1" height="17" fill="#c0c0c0"/>
<rect x="1063" y="642" width="1" height="21" fill="#c0c0c0"/>
<rect x="1071" y="642" width="1" height="25" fill="#c0c0c0"/>
<rect x="1079" y="642" width="1" height="32" fill="#c0c0c0"/>
<rect x="1087" y="642" width="1" height="36" fill="#c0c0c0"/>
<rect x="1095" y="642" width="1" height="40" fill="#c0c0c0"/>
<rect x="1103" y="642" width="1" height="44" fill="#c0c0c0"/>
<rect x="1111" y="642" width="1" height="49" fill="#c0c0c0"/>
<rect x="1119" y="642" width="1" height="51" fill="#c0c0c0"/>
<rect x="1127" y="642" width="1" height="56" fill="#c0c0c0"/>
<rect x="1135" y="642" width="1" height="59" fill="#c0c0c0"/>
<rect x="1143" y="642" width="1" height="63" fill="#c0c0c0"/>
<rect x="1151" y="642" width="1" height="66" fill="#c0c0c0"/>
<rect x="1159" y="642" width="1" height="69" fill="#c0c0c0"/>
<rect x="1167" y="642" width="1" height="71" fill="#c0c0c0"/>
<rect x="1175" y="642" width="1" height="68" fill="#c0c0c0"/>
<rect x="1183" y="642" width="1" height="67" fill="#c0c0c0"/>
<rect x="1191" y="642" width="1" height="61" fill="#c0c0c0"/>
<rect x="1199" y="642" width="1" height="56" fill="#c0c0c0"/>
<rect x="1207" y="642" width="1" height="51" fill="#c0c0c0"/>
<rect x="1215" y="642" width="1" height="48" fill="#c0c0c0"/>
<rect x="1223" y="642" width="1" height="43" fill="#c0c0c0"/>
<rect x="1231" y="642" width="1" height="46" fill="#c0c0c0"/>
<rect x="1239" y="642" width="1" height="53" fill="#c0c0c0"/>
<rect x="1247" y="642" width="1" height="57" fill="#c0c0c0"/>
<rect x="1255" y="642" width="1" height="63" fill="#c0c0c0"/>
<rect x="1263" y="642" width="1" height="66" fill="#c0c0c0"/>
<rect x="1271" y="642" width="1" height="70" fill="#c0c0c0"/>
<rect x="1279" y="642" width="1" height="74" fill="#c0c0c0"/>
<rect x="1287" y="642" width="1" height="78" fill="#c0c0c0"/>
<rect x="1295" y="642" width="1" height="76" fill="#c0c0c0"/>
<rect x="1303" y="642" width="1" height="73" fill="#c0c0c0"/>
<rect x="1311" y="642" width="1" height="70" fill="#c0c0c0"/>
<rect x="1319" y="642" width="1" height="64" fill="#c0c0c0"/>
<rect x="1327" y="642" width="1" height="57" fill="#c0c0c0"/>
<rect x="1335" y="642" width="1" height="43" fill="#c0c0c0"/>
<rect x="1343" y="642" width="1" height="35" fill="#c0c0c0"/>
<rect x="1351" y="642" width="1" height="29" fill="#c0c0c0"/>
<rect x="1359" y="642" width="1" height="23" fill="#c0c0c0"/>
<rect x="1367" y="642" width="1" height="18" fill="#c0c0c0"/>
<rect x="1375" y="642" width="1" height="13" fill="#c0c0c0"/>
<rect x="1383" y="642" width="1" height="11" fill="#c0c0c0"/>
<rect x="1391" y="642" width="1" height="9" fill="#c0c0c0"/>
<rect x="1399" y="642" width="1" height="6" fill="#c0c0c0"/>
<rect x="1407" y="642" width="1" height="5" fill="#c0c0c0"/>
<polyline points="-1.5,631.5 3.0,632.5 15.5,635.5 25.5,638.0 40.5,643.5 55.5,650.5 70.5,656.5 85.5,661.0 100.5,663.5 113.0,667.5 130.5,673.5 143.0,679.5 155.5,690.5 168.0,703.0 173.0,707.5 185.5,718.5 198.0,728.0 208.0,733.5 220.5,737.0 233.0,735.5 245.5,728.5 258.0,718.5 268.0,707.5 275.5,696.5 288.0,678.0 300.5,661.5 315.5,645.5 328.0,634.5 343.0,622.5 355.5,617.5 368.0,611.5 383.0,608.0 395.5,604.5 410.5,601.5 424.5,601.0 459.5,601.0 479.5,603.5 499.5,602.5 519.5,600.0 527.0,598.0 544.5,597.5 559.5,598.5 574.5,599.5 584.5,603.0 599.5,609.5 614.5,616.5 629.5,625.0 644.5,635.5 659.5,644.5 674.5,652.5 687.0,658.5 699.5,661.5 714.5,663.0 729.5,663.0 749.5,660.0 764.5,653.0 779.5,646.5 794.5,639.5 809.5,631.5 824.5,625.5 839.5,621.5 848.5,620.5 873.5,619.5 891.0,621.5 911.0,623.5 936.0,624.5 961.0,623.5 993.5,623.5 1011.0,626.0 1023.5,628.5 1038.5,634.5 1053.5,640.0 1066.0,646.5 1076.0,654.5 1088.5,660.0 1101.0,667.5 1113.5,674.5 1126.0,680.5 1138.5,686.5 1151.0,693.0 1163.5,699.5 1178.5,704.5 1193.5,706.5 1216.0,704.5 1226.0,700.5 1236.0,697.5 1245.0,695.5 1260.0,695.0 1275.0,698.0 1287.5,703.0 1300.0,708.5 1312.5,711.5 1325.0,712.5 1337.5,708.5 1350.0,702.5 1365.0,690.5 1380.0,678.0 1392.5,668.0 1407.5,658.0" fill="none" stroke="#ff0000" stroke-width="1" stroke-dasharray="3,3"/>
</g>
<g clip-path="url(#c3)">
<g shape-rendering="crispEdges">
<line x1="0" y1="790.5" x2="1649" y2="790.5" stroke="#c0c0c0" stroke-width="1" stroke-dasharray="3,3" stroke-dashoffset="2"/>
<line x1="0" y1="841.5" x2="1649" y2="841.5" stroke="#c0c0c0" stroke-width="1" stroke-dasharray="3,3" stroke-dashoffset="2"/>
<line x1="0" y1="902.5" x2="1649" y2="902.5" stroke="#c0c0c0" stroke-width="1" stroke-dasharray="3,3" stroke-dashoffset="2"/>
</g>
<polyline points="-0.5,850.5 7.5,851.5 15.5,850.5 23.5,861.5 31.5,867.5 39.5,841.5 47.5,845.5 55.5,858.5 63.5,857.5 71.5,848.5 79.5,850.0 87.5,847.5 95.5,856.5 103.5,860.5 111.5,866.5 119.5,865.5 127.5,873.5 135.5,878.5 143.5,885.5 151.5,887.5 159.5,885.5 167.5,886.5 175.5,887.5 183.5,890.0 191.5,877.5 199.5,875.5 207.5,868.5 215.5,872.5 223.5,866.5 231.5,862.0 239.5,834.5 247.5,828.5 255.5,830.5 263.5,836.5 271.5,825.5 279.5,818.5 287.5,831.5 295.5,827.5 303.5,825.5 311.5,824.5 319.5,828.5 327.5,825.0 335.5,822.0 343.5,820.0 351.5,820.0 359.5,832.5 367.5,835.0 375.5,823.0 383.5,814.5 391.5,814.5 399.5,816.5 407.5,821.5 415.5,838.5 423.5,834.5 431.5,828.5 439.5,826.5 447.5,824.5 455.5,828.0 463.5,823.0 471.5,818.0 479.5,816.5 487.5,816.5 495.5,816.5 503.5,814.5 511.5,808.5 519.5,803.5 527.5,821.5 535.5,828.0 543.5,830.5 551.5,833.5 559.5,824.5 567.5,822.5 575.5,838.5 583.5,844.5 591.5,845.5 599.5,846.5 607.5,837.5 615.5,852.0 623.5,866.5 631.5,860.5 639.5,861.5 647.5,861.5 655.5,855.0 663.5,848.5 671.5,859.5 679.5,856.5 687.5,860.0 695.5,853.5 703.5,843.5 711.5,850.5 719.5,838.5 727.5,845.5 735.5,841.5 743.5,835.5 751.5,828.5 759.5,835.5 767.5,822.5 775.5,822.5 783.5,824.5 791.5,822.5 799.5,830.0 807.5,828.5 815.5,824.5 823.5,824.5 831.5,825.5 839.5,827.5 847.5,831.5 855.5,832.5 863.5,835.5 871.5,832.5 879.5,833.5 887.5,831.5 895.5,822.5 903.5,815.5 911.5,827.5 919.5,827.5 927.5,825.5 935.5,826.5 943.5,825.5 951.5,821.5 959.5,817.5 967.5,818.5 975.5,827.5 983.5,824.5 991.5,820.5 999.5,840.0 1007.5,855.5 1015.5,866.5 1023.5,863.0 1031.5,859.5 1039.5,869.5 1047.5,866.5 1055.5,876.5 1063.5,878.5 1071.5,879.5 1079.5,891.5 1087.5,886.5 1095.5,880.5 1103.5,888.5 1111.5,891.5 1119.5,885.0 1127.5,889.5 1135.5,892.5 1143.5,895.5 1151.5,897.5 1159.5,897.5 1167.5,898.5 1175.5,878.5 1183.5,882.5 1191.5,856.5 1199.5,856.5 1207.5,859.5 1215.5,861.5 1223.5,851.5 1231.5,873.0 1239.5,881.5 1247.5,877.0 1255.5,882.5 1263.5,883.5 1271.5,884.5 1279.5,888.5 1287.5,886.5 1295.5,874.5 1303.5,874.5 1311.5,870.0 1319.5,857.5 1327.5,855.5 1335.5,831.5 1343.5,836.5 1351.5,836.5 1359.5,838.5 1367.5,837.5 1375.5,837.5 1383.5,838.5 1391.5,842.5 1399.5,836.5 1407.5,842.5" fill="none" stroke="#1e90ff" stroke-width="1" shape-rendering="crispEdges"/>
</g>
<g shape-rendering="crispEdges"><rect x="120" y="557" width="61" height="18" fill="#fff" stroke="#ff0000" stroke-width="1" transform="translate(0.5,0.5)"/><rect x="182" y="566" width="10" height="1" fill="#ff0000"/></g><text transform="translate(127.06,573.10) scale(0.900,1)" text-anchor="middle" font-size="16.6" fill="#ff0000" font-family="'Liberation Serif',serif">1</text><text transform="translate(135.18,573.10) scale(0.900,1)" text-anchor="middle" font-size="16.6" fill="#ff0000" font-family="'Liberation Serif',serif">4</text><text transform="translate(143.30,573.10) scale(0.900,1)" text-anchor="middle" font-size="16.6" fill="#ff0000" font-family="'Liberation Serif',serif">8</text><text transform="translate(151.42,573.10) scale(0.900,1)" text-anchor="middle" font-size="16.6" fill="#ff0000" font-family="'Liberation Serif',serif">.</text><text transform="translate(159.54,573.10) scale(0.900,1)" text-anchor="middle" font-size="16.6" fill="#ff0000" font-family="'Liberation Serif',serif">4</text><text transform="translate(167.66,573.10) scale(0.900,1)" text-anchor="middle" font-size="16.6" fill="#ff0000" font-family="'Liberation Serif',serif">4</text><text transform="translate(175.78,573.10) scale(0.900,1)" text-anchor="middle" font-size="16.6" fill="#ff0000" font-family="'Liberation Serif',serif">7</text>
<g shape-rendering="crispEdges"><rect x="840" y="57" width="61" height="18" fill="#fff" stroke="#ff0000" stroke-width="1" transform="translate(0.5,0.5)"/><rect x="902" y="66" width="10" height="1" fill="#ff0000"/></g><text transform="translate(847.06,73.10) scale(0.900,1)" text-anchor="middle" font-size="16.6" fill="#ff0000" font-family="'Liberation Serif',serif">1</text><text transform="translate(855.18,73.10) scale(0.900,1)" text-anchor="middle" font-size="16.6" fill="#ff0000" font-family="'Liberation Serif',serif">5</text><text transform="translate(863.30,73.10) scale(0.900,1)" text-anchor="middle" font-size="16.6" fill="#ff0000" font-family="'Liberation Serif',serif">3</text><text transform="translate(871.42,73.10) scale(0.900,1)" text-anchor="middle" font-size="16.6" fill="#ff0000" font-family="'Liberation Serif',serif">.</text><text transform="translate(879.54,73.10) scale(0.900,1)" text-anchor="middle" font-size="16.6" fill="#ff0000" font-family="'Liberation Serif',serif">3</text><text transform="translate(887.66,73.10) scale(0.900,1)" text-anchor="middle" font-size="16.6" fill="#ff0000" font-family="'Liberation Serif',serif">1</text><text transform="translate(895.78,73.10) scale(0.900,1)" text-anchor="middle" font-size="16.6" fill="#ff0000" font-family="'Liberation Serif',serif">1</text>
<g shape-rendering="crispEdges"><rect x="1136" y="254" width="61" height="18" fill="#fff" stroke="#ff0000" stroke-width="1" transform="translate(0.5,0.5)"/><rect x="1198" y="263" width="10" height="1" fill="#ff0000"/></g><text transform="translate(1143.06,270.10) scale(0.900,1)" text-anchor="middle" font-size="16.6" fill="#ff0000" font-family="'Liberation Serif',serif">1</text><text transform="translate(1151.18,270.10) scale(0.900,1)" text-anchor="middle" font-size="16.6" fill="#ff0000" font-family="'Liberation Serif',serif">5</text><text transform="translate(1159.30,270.10) scale(0.900,1)" text-anchor="middle" font-size="16.6" fill="#ff0000" font-family="'Liberation Serif',serif">1</text><text transform="translate(1167.42,270.10) scale(0.900,1)" text-anchor="middle" font-size="16.6" fill="#ff0000" font-family="'Liberation Serif',serif">.</text><text transform="translate(1175.54,270.10) scale(0.900,1)" text-anchor="middle" font-size="16.6" fill="#ff0000" font-family="'Liberation Serif',serif">3</text><text transform="translate(1183.66,270.10) scale(0.900,1)" text-anchor="middle" font-size="16.6" fill="#ff0000" font-family="'Liberation Serif',serif">9</text><text transform="translate(1191.78,270.10) scale(0.900,1)" text-anchor="middle" font-size="16.6" fill="#ff0000" font-family="'Liberation Serif',serif">7</text>
<g shape-rendering="crispEdges"><rect x="1208" y="483" width="61" height="18" fill="#fff" stroke="#ff0000" stroke-width="1" transform="translate(0.5,0.5)"/><rect x="1270" y="492" width="10" height="1" fill="#ff0000"/></g><text transform="translate(1215.06,499.10) scale(0.900,1)" text-anchor="middle" font-size="16.6" fill="#ff0000" font-family="'Liberation Serif',serif">1</text><text transform="translate(1223.18,499.10) scale(0.900,1)" text-anchor="middle" font-size="16.6" fill="#ff0000" font-family="'Liberation Serif',serif">4</text><text transform="translate(1231.30,499.10) scale(0.900,1)" text-anchor="middle" font-size="16.6" fill="#ff0000" font-family="'Liberation Serif',serif">9</text><text transform="translate(1239.42,499.10) scale(0.900,1)" text-anchor="middle" font-size="16.6" fill="#ff0000" font-family="'Liberation Serif',serif">.</text><text transform="translate(1247.54,499.10) scale(0.900,1)" text-anchor="middle" font-size="16.6" fill="#ff0000" font-family="'Liberation Serif',serif">1</text><text transform="translate(1255.66,499.10) scale(0.900,1)" text-anchor="middle" font-size="16.6" fill="#ff0000" font-family="'Liberation Serif',serif">7</text><text transform="translate(1263.78,499.10) scale(0.900,1)" text-anchor="middle" font-size="16.6" fill="#ff0000" font-family="'Liberation Serif',serif">3</text>
<g shape-rendering="crispEdges"><rect x="1018" y="332" width="73" height="24" fill="#fff" stroke="#ff0000" stroke-width="1" transform="translate(0.5,0.5)"/><rect x="1008" y="344" width="10" height="1" fill="#ff0000"/></g><text x="1020.6" y="353.0" font-size="22.3" fill="#ff0000" textLength="69.5" lengthAdjust="spacingAndGlyphs">150.612</text>
<line x1="1287.0" y1="486.0" x2="1368.8" y2="308.6" stroke="#ff0000" stroke-width="4.0"/><polygon points="1373.0,299.5 1373.0,312.7 1363.0,308.1" fill="#ff0000"/>
<line x1="1373.0" y1="299.5" x2="1405.3" y2="368.4" stroke="#ff0000" stroke-width="4.0"/><polygon points="1409.5,377.5 1399.4,369.0 1409.4,364.3" fill="#ff0000"/>
<line x1="1287.5" y1="705.0" x2="1405.8" y2="652.2" stroke="#ff0000" stroke-width="3.0"/><polygon points="1414.0,648.5 1405.7,656.9 1402.2,649.1" fill="#ff0000"/>
<line x1="1337.0" y1="834.0" x2="1406.5" y2="838.4" stroke="#ff0000" stroke-width="3.0"/><polygon points="1415.5,839.0 1404.3,842.5 1404.8,834.1" fill="#ff0000"/>
<text x="1473.5" y="345.6" font-size="21" fill="#3cff00" textLength="105" lengthAdjust="spacing" style="font-family:'Liberation Serif','Noto Serif CJK SC',serif">多空转折点</text>
<rect x="0" y="37" width="2" height="1" fill="#333" shape-rendering="crispEdges"/>
<text x="6.4" y="39.0" font-size="9.6" fill="#000" textLength="199.6" lengthAdjust="spacingAndGlyphs" xml:space="preserve">GBPJPY-,H4&#160;&#160;150.553 150.592 150.381 150.396</text>
<text x="-4.2" y="595.0" font-size="9.6" fill="#000" textLength="133.2" lengthAdjust="spacingAndGlyphs">MACD(12,26,9) -0.0365 -0.1244</text>
<text x="-5.0" y="767.0" font-size="9.6" fill="#000" textLength="67.7" lengthAdjust="spacingAndGlyphs">RSI(14) 49.2057</text>
<g shape-rendering="crispEdges">
<rect x="55" y="928" width="1" height="4" fill="#000"/>
<rect x="119" y="928" width="1" height="4" fill="#000"/>
<rect x="183" y="928" width="1" height="4" fill="#000"/>
<rect x="247" y="928" width="1" height="4" fill="#000"/>
<rect x="311" y="928" width="1" height="4" fill="#000"/>
<rect x="375" y="928" width="1" height="4" fill="#000"/>
<rect x="439" y="928" width="1" height="4" fill="#000"/>
<rect x="503" y="928" width="1" height="4" fill="#000"/>
<rect x="567" y="928" width="1" height="4" fill="#000"/>
<rect x="631" y="928" width="1" height="4" fill="#000"/>
<rect x="695" y="928" width="1" height="4" fill="#000"/>
<rect x="759" y="928" width="1" height="4" fill="#000"/>
<rect x="823" y="928" width="1" height="4" fill="#000"/>
<rect x="887" y="928" width="1" height="4" fill="#000"/>
<rect x="951" y="928" width="1" height="4" fill="#000"/>
<rect x="1015" y="928" width="1" height="4" fill="#000"/>
<rect x="1079" y="928" width="1" height="4" fill="#000"/>
<rect x="1143" y="928" width="1" height="4" fill="#000"/>
<rect x="1207" y="928" width="1" height="4" fill="#000"/>
<rect x="1271" y="928" width="1" height="4" fill="#000"/>
<rect x="1335" y="928" width="1" height="4" fill="#000"/>
<rect x="1399" y="928" width="1" height="4" fill="#000"/>
</g>
<text x="-9.5" y="941.0" font-size="9.6" fill="#000" textLength="45.8" lengthAdjust="spacingAndGlyphs">14 Jul 2021</text>
<text x="54.5" y="941.0" font-size="9.6" fill="#000" textLength="48.5" lengthAdjust="spacingAndGlyphs">15 Jul 16:00</text>
<text x="118.5" y="941.0" font-size="9.6" fill="#000" textLength="48.5" lengthAdjust="spacingAndGlyphs">19 Jul 00:00</text>
<text x="182.5" y="941.0" font-size="9.6" fill="#000" textLength="48.5" lengthAdjust="spacingAndGlyphs">20 Jul 08:00</text>
<text x="246.5" y="941.0" font-size="9.6" fill="#000" textLength="48.5" lengthAdjust="spacingAndGlyphs">21 Jul 16:00</text>
<text x="310.5" y="941.0" font-size="9.6" fill="#000" textLength="48.5" lengthAdjust="spacingAndGlyphs">23 Jul 00:00</text>
<text x="374.5" y="941.0" font-size="9.6" fill="#000" textLength="48.5" lengthAdjust="spacingAndGlyphs">26 Jul 08:00</text>
<text x="438.5" y="941.0" font-size="9.6" fill="#000" textLength="48.5" lengthAdjust="spacingAndGlyphs">27 Jul 16:00</text>
<text x="502.5" y="941.0" font-size="9.6" fill="#000" textLength="48.5" lengthAdjust="spacingAndGlyphs">29 Jul 00:00</text>
<text x="566.5" y="941.0" font-size="9.6" fill="#000" textLength="48.5" lengthAdjust="spacingAndGlyphs">30 Jul 08:00</text>
<text x="630.5" y="941.0" font-size="9.6" fill="#000" textLength="50.7" lengthAdjust="spacingAndGlyphs">2 Aug 16:00</text>
<text x="694.5" y="941.0" font-size="9.6" fill="#000" textLength="50.7" lengthAdjust="spacingAndGlyphs">4 Aug 00:00</text>
<text x="758.5" y="941.0" font-size="9.6" fill="#000" textLength="50.7" lengthAdjust="spacingAndGlyphs">5 Aug 08:00</text>
<text x="822.5" y="941.0" font-size="9.6" fill="#000" textLength="50.7" lengthAdjust="spacingAndGlyphs">6 Aug 16:00</text>
<text x="886.5" y="941.0" font-size="9.6" fill="#000" textLength="55.6" lengthAdjust="spacingAndGlyphs">10 Aug 00:00</text>
<text x="950.5" y="941.0" font-size="9.6" fill="#000" textLength="55.6" lengthAdjust="spacingAndGlyphs">11 Aug 08:00</text>
<text x="1014.5" y="941.0" font-size="9.6" fill="#000" textLength="55.6" lengthAdjust="spacingAndGlyphs">12 Aug 16:00</text>
<text x="1078.5" y="941.0" font-size="9.6" fill="#000" textLength="55.6" lengthAdjust="spacingAndGlyphs">16 Aug 00:00</text>
<text x="1142.5" y="941.0" font-size="9.6" fill="#000" textLength="55.6" lengthAdjust="spacingAndGlyphs">17 Aug 08:00</text>
<text x="1206.5" y="941.0" font-size="9.6" fill="#000" textLength="55.6" lengthAdjust="spacingAndGlyphs">18 Aug 16:00</text>
<text x="1270.5" y="941.0" font-size="9.6" fill="#000" textLength="55.6" lengthAdjust="spacingAndGlyphs">20 Aug 00:00</text>
<text x="1334.5" y="941.0" font-size="9.6" fill="#000" textLength="55.6" lengthAdjust="spacingAndGlyphs">23 Aug 08:00</text>
<text x="1398.5" y="941.0" font-size="9.6" fill="#000" textLength="55.6" lengthAdjust="spacingAndGlyphs">24 Aug 16:00</text>
<g shape-rendering="crispEdges">
<rect x="1650" y="49" width="2" height="1" fill="#000"/>
<rect x="1650" y="82" width="2" height="1" fill="#000"/>
<rect x="1650" y="115" width="2" height="1" fill="#000"/>
<rect x="1650" y="148" width="2" height="1" fill="#000"/>
<rect x="1650" y="181" width="2" height="1" fill="#000"/>
<rect x="1650" y="214" width="2" height="1" fill="#000"/>
<rect x="1650" y="247" width="2" height="1" fill="#000"/>
<rect x="1650" y="280" width="2" height="1" fill="#000"/>
<rect x="1650" y="313" width="2" height="1" fill="#000"/>
<rect x="1650" y="346" width="2" height="1" fill="#000"/>
<rect x="1650" y="379" width="2" height="1" fill="#000"/>
<rect x="1650" y="412" width="2" height="1" fill="#000"/>
<rect x="1650" y="445" width="2" height="1" fill="#000"/>
<rect x="1650" y="478" width="2" height="1" fill="#000"/>
<rect x="1650" y="511" width="2" height="1" fill="#000"/>
<rect x="1650" y="544" width="2" height="1" fill="#000"/>
<rect x="1650" y="577" width="2" height="1" fill="#000"/>
<rect x="1650" y="642" width="2" height="1" fill="#000"/>
<rect x="1650" y="790" width="2" height="1" fill="#000"/>
<rect x="1650" y="841" width="2" height="1" fill="#000"/>
<rect x="1650" y="902" width="2" height="1" fill="#000"/>
</g>
<text x="0.0" y="0.0" font-size="9.6" fill="#000" transform="translate(1655.60,53.00) scale(0.9300,1)">153.480</text>
<text x="0.0" y="0.0" font-size="9.6" fill="#000" transform="translate(1655.60,86.00) scale(0.9300,1)">153.155</text>
<text x="0.0" y="0.0" font-size="9.6" fill="#000" transform="translate(1655.60,119.00) scale(0.9300,1)">152.835</text>
<text x="0.0" y="0.0" font-size="9.6" fill="#000" transform="translate(1655.60,152.00) scale(0.9300,1)">152.515</text>
<text x="0.0" y="0.0" font-size="9.6" fill="#000" transform="translate(1655.60,185.00) scale(0.9300,1)">152.195</text>
<text x="0.0" y="0.0" font-size="9.6" fill="#000" transform="translate(1655.60,218.00) scale(0.9300,1)">151.875</text>
<text x="0.0" y="0.0" font-size="9.6" fill="#000" transform="translate(1655.60,251.00) scale(0.9300,1)">151.550</text>
<text x="0.0" y="0.0" font-size="9.6" fill="#000" transform="translate(1655.60,284.00) scale(0.9300,1)">151.230</text>
<text x="0.0" y="0.0" font-size="9.6" fill="#000" transform="translate(1655.60,317.00) scale(0.9300,1)">150.910</text>
<text x="0.0" y="0.0" font-size="9.6" fill="#000" transform="translate(1655.60,350.00) scale(0.9300,1)">150.590</text>
<text x="0.0" y="0.0" font-size="9.6" fill="#000" transform="translate(1655.60,383.00) scale(0.9300,1)">150.270</text>
<text x="0.0" y="0.0" font-size="9.6" fill="#000" transform="translate(1655.60,416.00) scale(0.9300,1)">149.945</text>
<text x="0.0" y="0.0" font-size="9.6" fill="#000" transform="translate(1655.60,449.00) scale(0.9300,1)">149.625</text>
<text x="0.0" y="0.0" font-size="9.6" fill="#000" transform="translate(1655.60,482.00) scale(0.9300,1)">149.305</text>
<text x="0.0" y="0.0" font-size="9.6" fill="#000" transform="translate(1655.60,515.00) scale(0.9300,1)">148.985</text>
<text x="0.0" y="0.0" font-size="9.6" fill="#000" transform="translate(1655.60,548.00) scale(0.9300,1)">148.665</text>
<text x="0.0" y="0.0" font-size="9.6" fill="#000" transform="translate(1655.60,581.00) scale(0.9300,1)">148.340</text>
<text x="0.0" y="0.0" font-size="9.6" fill="#000" transform="translate(1653.70,592.50) scale(0.9300,1)">0.4534</text>
<text x="0.0" y="0.0" font-size="9.6" fill="#000" transform="translate(1653.70,646.00) scale(0.9300,1)">0.00</text>
<text x="0.0" y="0.0" font-size="9.6" fill="#000" transform="translate(1653.70,749.00) scale(0.9300,1)">-0.8513</text>
<text x="0.0" y="0.0" font-size="9.6" fill="#000" transform="translate(1653.70,765.00) scale(0.9300,1)">100</text>
<text x="0.0" y="0.0" font-size="9.6" fill="#000" transform="translate(1653.70,794.00) scale(0.9300,1)">80</text>
<text x="0.0" y="0.0" font-size="9.6" fill="#000" transform="translate(1653.70,845.00) scale(0.9300,1)">50</text>
<text x="0.0" y="0.0" font-size="9.6" fill="#000" transform="translate(1653.70,906.00) scale(0.9300,1)">15</text>
<text x="0.0" y="0.0" font-size="9.6" fill="#000" transform="translate(1653.70,925.00) scale(0.9300,1)">0</text>
<rect x="1651" y="292" width="41" height="11" fill="#ff0000" shape-rendering="crispEdges"/>
<text x="0.0" y="0.0" font-size="9.6" fill="#fff" transform="translate(1655.70,301.00) scale(0.9300,1)">151.058</text>
<rect x="1651" y="314" width="41" height="11" fill="#ff0000" shape-rendering="crispEdges"/>
<text x="0.0" y="0.0" font-size="9.6" fill="#fff" transform="translate(1655.70,323.00) scale(0.9300,1)">150.845</text>
<rect x="1651" y="338" width="41" height="11" fill="#32cd32" shape-rendering="crispEdges"/>
<text x="0.0" y="0.0" font-size="9.6" fill="#fff" transform="translate(1655.70,347.00) scale(0.9300,1)">150.612</text>
<rect x="1651" y="361" width="41" height="11" fill="#000000" shape-rendering="crispEdges"/>
<text x="0.0" y="0.0" font-size="9.6" fill="#fff" transform="translate(1655.70,370.00) scale(0.9300,1)">150.396</text>
<rect x="1651" y="380" width="41" height="11" fill="#0000ff" shape-rendering="crispEdges"/>
<text x="0.0" y="0.0" font-size="9.6" fill="#fff" transform="translate(1655.70,389.00) scale(0.9300,1)">150.204</text>
<rect x="1651" y="396" width="41" height="11" fill="#0000ff" shape-rendering="crispEdges"/>
<text x="0.0" y="0.0" font-size="9.6" fill="#fff" transform="translate(1655.70,405.00) scale(0.9300,1)">150.048</text>
<polygon points="1411,28 1421,28 1416,33" fill="#b0b0b0"/>
<defs><linearGradient id="gb" x1="0" y1="0" x2="0" y2="1"><stop offset="0" stop-color="#f45252"/><stop offset="1" stop-color="#dc2e2e"/></linearGradient><linearGradient id="gp" gradientUnits="userSpaceOnUse" x1="0" y1="71" x2="0" y2="104"><stop offset="0" stop-color="#d93030"/><stop offset="0.6" stop-color="#c61c1c"/><stop offset="1" stop-color="#ae0808"/></linearGradient><linearGradient id="gs" x1="0" y1="0" x2="0" y2="1"><stop offset="0" stop-color="#ececec"/><stop offset="0.5" stop-color="#e0e0e0"/><stop offset="0.5" stop-color="#d2d2d2"/><stop offset="1" stop-color="#dcdcdc"/></linearGradient></defs>
<g shape-rendering="crispEdges">
<rect x="0" y="46" width="213" height="58" fill="#fff"/>
<rect x="0" y="47" width="46" height="25" fill="url(#gb)"/>
<rect x="162" y="47" width="51" height="25" fill="url(#gb)"/>
<rect x="0" y="71" width="103" height="33" fill="url(#gp)"/>
<rect x="105" y="71" width="108" height="33" fill="url(#gp)"/>
<rect x="0" y="70" width="42" height="1" fill="#f08080"/>
<rect x="165" y="70" width="44" height="1" fill="#f08080"/>
<rect x="47.5" y="47.5" width="113" height="22" fill="#f8f8fa" stroke="#c4c4cc"/>
<rect x="49.5" y="49.5" width="19" height="18" fill="url(#gs)" stroke="#b4b4bc"/>
<rect x="69.5" y="49.5" width="68" height="18" fill="#fff" stroke="#b4b4bc"/>
<rect x="138.5" y="49.5" width="20" height="18" fill="url(#gs)" stroke="#b4b4bc"/>
</g>
<polygon points="55.5,56.5 61.5,56.5 58.5,59.8" fill="#5560c0"/>
<polygon points="145,59.5 151.5,59.5 148.2,56" fill="#5560c0"/>
<text x="133.5" y="61.4" font-size="11.7" fill="#000" text-anchor="end">1.00</text>
<text x="6.5" y="63.1" font-size="12" fill="#fff" textLength="25.3" lengthAdjust="spacingAndGlyphs">SELL</text>
<text x="174.5" y="63.1" font-size="12" fill="#fff" textLength="22.7" lengthAdjust="spacingAndGlyphs">BUY</text>
<text x="17.5" y="98.4" font-size="12" fill="#fff" textLength="20.0" lengthAdjust="spacingAndGlyphs" font-weight="bold">150</text>
<text x="42.0" y="98.4" font-size="31.5" fill="#fff" textLength="35.0" lengthAdjust="spacingAndGlyphs" stroke="url(#gp)" stroke-width="0.45">39</text>
<text x="81.0" y="82.8" font-size="11.5" fill="#fff" font-weight="bold">6</text>
<text x="127.8" y="98.4" font-size="12" fill="#fff" textLength="20.0" lengthAdjust="spacingAndGlyphs" font-weight="bold">150</text>
<text x="152.9" y="98.4" font-size="31.5" fill="#fff" textLength="34.5" lengthAdjust="spacingAndGlyphs" stroke="url(#gp)" stroke-width="0.45">61</text>
<text x="192.5" y="82.8" font-size="11.5" fill="#fff" font-weight="bold">5</text>
<defs><linearGradient id="gold" x1="0" y1="0" x2="1" y2="1"><stop offset="0" stop-color="#ffe28a"/><stop offset="0.5" stop-color="#f0b830"/><stop offset="1" stop-color="#b87a10"/></linearGradient><linearGradient id="blu" x1="0" y1="0" x2="0" y2="1"><stop offset="0" stop-color="#7ab4ec"/><stop offset="1" stop-color="#3474c8"/></linearGradient><radialGradient id="lens" cx="0.4" cy="0.35" r="0.7"><stop offset="0" stop-color="#e8f4ff"/><stop offset="1" stop-color="#88bcf0"/></radialGradient><radialGradient id="badge" cx="0.5" cy="0.3" r="0.8"><stop offset="0" stop-color="#f05030"/><stop offset="1" stop-color="#c81808"/></radialGradient><radialGradient id="clk" cx="0.4" cy="0.35" r="0.7"><stop offset="0" stop-color="#ffffff"/><stop offset="1" stop-color="#d0e4f8"/></radialGradient></defs>
<g shape-rendering="crispEdges">
<rect x="0" y="0" width="1696" height="22" fill="#f0f0f0"/>
<rect x="0" y="22" width="1696" height="1" fill="#f5f5f5"/>
<rect x="0" y="23" width="1696" height="1" fill="#a6a6a6"/>
<rect x="0" y="24" width="1696" height="1" fill="#696969"/>
<rect x="0" y="25" width="1696" height="2" fill="#fff"/>
<rect x="1695" y="25" width="1" height="918" fill="#e3e3e3"/>
</g>
<polygon points="0,13 2.5,15.5 0,19" fill="#d89a20"/>
<rect x="10" y="1" width="1" height="20" fill="#a0a0a0" shape-rendering="crispEdges"/><rect x="11" y="1" width="1" height="20" fill="#fff" shape-rendering="crispEdges"/>
<path d="M20.5,4.5 h8 l3,3 v9 h-11 z" fill="#fff" stroke="#808080" stroke-width="1"/>
<g shape-rendering="crispEdges" fill="#707070"><rect x="22" y="7" width="5" height="1"/><rect x="22" y="9" width="7" height="1"/><rect x="22" y="11" width="4" height="1"/></g>
<path d="M28.5,10.7 h3.4 v3.5 h3.5 v3.4 h-3.5 v3.5 h-3.4 v-3.5 h-3.5 v-3.4 h3.5 z" fill="#28c428" stroke="#0c800c" stroke-width="0.9" stroke-linejoin="round"/>
<text x="39" y="14.4" font-size="12" fill="#000" textLength="36.2" lengthAdjust="spacing" style="font-family:'Liberation Sans','Noto Sans CJK SC',sans-serif">新订单</text>
<polygon points="92.5,4.2 102.5,11 97,18 87.2,11.5" fill="url(#gold)" stroke="#a87010" stroke-width="0.8" stroke-linejoin="round"/>
<polygon points="87.2,11.5 97,18 102.5,11 103,12.6 97.2,19.8 87.2,13.2" fill="#f6e2a0" stroke="#a87010" stroke-width="0.6" stroke-linejoin="round"/>
<rect x="118" y="3.5" width="10.5" height="10.5" fill="url(#blu)" stroke="#2c62b0" stroke-width="0.8"/>
<g shape-rendering="crispEdges" fill="#d8ecff"><rect x="120" y="6" width="7" height="1"/><rect x="122" y="6" width="1" height="7"/><rect x="123" y="9" width="4" height="1"/></g>
<path d="M116,18.8 a3,3 0 0 1 1,-5.6 a3.6,3.6 0 0 1 6.6,-1 a3,3 0 0 1 4.6,1.6 a2.6,2.6 0 0 1 0.6,5 z" fill="#e6f0fc" stroke="#7aa0d8" stroke-width="0.9"/>
<g fill="none"><circle cx="150.6" cy="11.3" r="7.3" stroke="#b4c6e4" stroke-width="1.1"/><circle cx="150.6" cy="11.3" r="5" stroke="#7ea2dc" stroke-width="1.2"/><circle cx="150.6" cy="11.3" r="2.8" stroke="#4a7cd0" stroke-width="1.2"/><circle cx="150.6" cy="11.3" r="1.1" fill="#2458c0" stroke="none"/></g>
<path d="M150.9,11.5 L150.9,19 A7.6,7.6 0 0 0 158.3,13.2 Z" fill="#58b858" fill-opacity="0.45" stroke="#3ea03e" stroke-width="1.2" stroke-linejoin="round"/>
<path d="M173,9 L184.5,9 L182,18 Q178.5,20 175.5,18 Z" fill="#f8cc40" stroke="#c89010" stroke-width="0.8"/>
<ellipse cx="178.5" cy="8" rx="7.6" ry="2.6" fill="#4a88d8" stroke="#2a5cae" stroke-width="0.7"/>
<ellipse cx="178.5" cy="6" rx="4" ry="2.8" fill="#5c9ae4" stroke="#2a5cae" stroke-width="0.7"/>
<circle cx="182.8" cy="14.8" r="3.9" fill="#e02818" stroke="#fff" stroke-width="0.6"/>
<rect x="181.2" y="13.2" width="3.2" height="3.2" fill="#fff"/>
<text x="191.5" y="14.4" font-size="12" fill="#000" textLength="47.2" lengthAdjust="spacing" style="font-family:'Liberation Sans','Noto Sans CJK SC',sans-serif">自动交易</text>
<rect x="246" y="1" width="1" height="20" fill="#a0a0a0" shape-rendering="crispEdges"/><rect x="247" y="1" width="1" height="20" fill="#fff" shape-rendering="crispEdges"/>
<g shape-rendering="crispEdges"><rect x="250" y="2" width="3" height="1" fill="#b0b0b0"/><rect x="250" y="4" width="3" height="1" fill="#b0b0b0"/><rect x="250" y="6" width="3" height="1" fill="#b0b0b0"/><rect x="250" y="8" width="3" height="1" fill="#b0b0b0"/><rect x="250" y="10" width="3" height="1" fill="#b0b0b0"/><rect x="250" y="12" width="3" height="1" fill="#b0b0b0"/><rect x="250" y="14" width="3" height="1" fill="#b0b0b0"/><rect x="250" y="16" width="3" height="1" fill="#b0b0b0"/><rect x="250" y="18" width="3" height="1" fill="#b0b0b0"/><rect x="250" y="20" width="3" height="1" fill="#b0b0b0"/></g>
<g shape-rendering="crispEdges" fill="#505050"><rect x="265" y="5" width="1" height="13"/><rect x="262" y="16" width="14" height="1"/><rect x="264" y="6" width="3" height="1"/><rect x="274" y="15" width="1" height="3"/></g>
<g shape-rendering="crispEdges" fill="#18a018"><rect x="270" y="6" width="2" height="9"/><rect x="272" y="6" width="2" height="1"/><rect x="268" y="14" width="2" height="1"/></g>
<rect x="284" y="1" width="1" height="20" fill="#a0a0a0" shape-rendering="crispEdges"/><rect x="285" y="1" width="1" height="20" fill="#fff" shape-rendering="crispEdges"/>
<rect x="286" y="1" width="23" height="21" fill="#f8f8f8" shape-rendering="crispEdges"/>
<g shape-rendering="crispEdges" fill="#505050"><rect x="293" y="5" width="1" height="13"/><rect x="290" y="16" width="14" height="1"/><rect x="292" y="6" width="3" height="1"/><rect x="302" y="15" width="1" height="3"/></g>
<g shape-rendering="crispEdges"><rect x="298" y="3" width="1" height="13" fill="#0a700a"/><rect x="296.5" y="5.5" width="4" height="8" fill="#28c828" stroke="#0a700a" stroke-width="1"/></g>
<g shape-rendering="crispEdges" fill="#505050"><rect x="321" y="5" width="1" height="13"/><rect x="318" y="16" width="14" height="1"/><rect x="320" y="6" width="3" height="1"/><rect x="330" y="15" width="1" height="3"/></g>
<path d="M321.5,14 Q325,6 328,8.5 T333,12.5" fill="none" stroke="#18a018" stroke-width="1.3"/>
<rect x="341" y="1" width="1" height="20" fill="#a0a0a0" shape-rendering="crispEdges"/><rect x="342" y="1" width="1" height="20" fill="#fff" shape-rendering="crispEdges"/>
<line x1="359.5" y1="12.5" x2="365.0" y2="18" stroke="#c8a030" stroke-width="3" stroke-linecap="round"/>
<circle cx="356" cy="9" r="5.3" fill="url(#lens)" stroke="#3070c8" stroke-width="1.4"/>
<rect x="353.0" y="8.2" width="6" height="1.8" fill="#3070c8"/>
<rect x="355.1" y="6" width="1.8" height="6" fill="#3070c8"/>
<line x1="387.5" y1="12.5" x2="393.0" y2="18" stroke="#c8a030" stroke-width="3" stroke-linecap="round"/>
<circle cx="384" cy="9" r="5.3" fill="url(#lens)" stroke="#3070c8" stroke-width="1.4"/>
<rect x="381.0" y="8.2" width="6" height="1.8" fill="#3070c8"/>
<g shape-rendering="crispEdges"><rect x="406" y="3" width="8" height="8" fill="#58a828"/><rect x="415" y="3" width="7" height="8" fill="#2868d0"/><rect x="406" y="12" width="8" height="7" fill="#2868d0"/><rect x="415" y="12" width="7" height="7" fill="#58a828"/><rect x="407" y="6" width="6" height="3" fill="#e8f4d8"/><rect x="416" y="6" width="5" height="3" fill="#dce8fc"/><rect x="407" y="14" width="6" height="3" fill="#dce8fc"/><rect x="416" y="14" width="5" height="3" fill="#e8f4d8"/></g>
<rect x="431" y="1" width="1" height="20" fill="#a0a0a0" shape-rendering="crispEdges"/><rect x="432" y="1" width="1" height="20" fill="#fff" shape-rendering="crispEdges"/>
<rect x="435" y="1" width="1" height="20" fill="#a0a0a0" shape-rendering="crispEdges"/><rect x="436" y="1" width="1" height="20" fill="#fff" shape-rendering="crispEdges"/>
<rect x="437" y="1" width="24" height="21" fill="#f8f8f8" shape-rendering="crispEdges"/>
<g shape-rendering="crispEdges" fill="#505050"><rect x="445" y="5" width="1" height="13"/><rect x="442" y="16" width="14" height="1"/><rect x="444" y="6" width="3" height="1"/><rect x="454" y="15" width="1" height="3"/></g>
<polygon points="449.5,7.5 449.5,13.8 453.8,10.6" fill="#50d050" stroke="#108010" stroke-width="0.9"/>
<rect x="463" y="1" width="1" height="20" fill="#a0a0a0" shape-rendering="crispEdges"/><rect x="464" y="1" width="1" height="20" fill="#fff" shape-rendering="crispEdges"/>
<rect x="465" y="1" width="24" height="21" fill="#f8f8f8" shape-rendering="crispEdges"/>
<g shape-rendering="crispEdges" fill="#505050"><rect x="473" y="5" width="1" height="13"/><rect x="470" y="16" width="14" height="1"/><rect x="472" y="6" width="3" height="1"/><rect x="482" y="15" width="1" height="3"/></g>
<rect x="478" y="5" width="1" height="10" fill="#2060b0" shape-rendering="crispEdges"/>
<path d="M485,10.5 h-5 M482.5,8 l-2.5,2.5 l2.5,2.5" stroke="#d03010" stroke-width="1.2" fill="none"/>
<rect x="493" y="1" width="1" height="20" fill="#a0a0a0" shape-rendering="crispEdges"/><rect x="494" y="1" width="1" height="20" fill="#fff" shape-rendering="crispEdges"/>
<path d="M503.5,4.5 h7 l3,3 v8.5 h-10 z" fill="#fff" stroke="#808080"/>
<path d="M509,7 q-2,-0.5 -2,2 v5 M505.5,10.5 h3.5" stroke="#555" stroke-width="1" fill="none"/>
<path d="M511.4,9.4 h3.6 v3.7 h3.7 v3.6 h-3.7 v3.7 h-3.6 v-3.7 h-3.7 v-3.6 h3.7 z" fill="#28c428" stroke="#0c800c" stroke-width="0.9" stroke-linejoin="round"/>
<polygon points="525.0,10.0 530.5,10.0 527.8,13.0" fill="#000"/>
<circle cx="549" cy="11" r="7" fill="url(#clk)" stroke="#1f62c6" stroke-width="2.4"/><g stroke="#7090b8" stroke-width="0.8"><path d="M549,5.6 v1.2 M549,15.2 v1.2 M543.6,11 h1.2 M553.2,11 h1.2"/></g>
<path d="M549,6.5 v5 h3.5" stroke="#444" stroke-width="1.1" fill="none"/>
<polygon points="564.0,10.0 569.5,10.0 566.8,13.0" fill="#000"/>
<rect x="580.5" y="4.5" width="15" height="13" fill="#fff" stroke="#2868c8" stroke-width="1"/>
<rect x="581" y="5" width="14" height="2" fill="#5090e0" shape-rendering="crispEdges"/>
<rect x="581" y="11" width="14" height="1" fill="#5090e0" shape-rendering="crispEdges"/>
<path d="M582,10 l3,-1 l3,0.5 l3,-1.5 l3,-0.5" stroke="#b02010" stroke-width="1.1" fill="none"/>
<path d="M582,15.5 l3,-1.5 l2,1 l3,-2 l2,1.5 l2,-0.5" stroke="#109010" stroke-width="1.1" fill="none"/>
<polygon points="603.0,10.0 608.5,10.0 605.8,13.0" fill="#000"/>
<rect x="614" y="1" width="1" height="20" fill="#a0a0a0" shape-rendering="crispEdges"/><rect x="615" y="1" width="1" height="20" fill="#fff" shape-rendering="crispEdges"/>
<g shape-rendering="crispEdges"><rect x="618" y="2" width="3" height="1" fill="#b0b0b0"/><rect x="618" y="4" width="3" height="1" fill="#b0b0b0"/><rect x="618" y="6" width="3" height="1" fill="#b0b0b0"/><rect x="618" y="8" width="3" height="1" fill="#b0b0b0"/><rect x="618" y="10" width="3" height="1" fill="#b0b0b0"/><rect x="618" y="12" width="3" height="1" fill="#b0b0b0"/><rect x="618" y="14" width="3" height="1" fill="#b0b0b0"/><rect x="618" y="16" width="3" height="1" fill="#b0b0b0"/><rect x="618" y="18" width="3" height="1" fill="#b0b0b0"/><rect x="618" y="20" width="3" height="1" fill="#b0b0b0"/></g>
<rect x="624" y="1" width="1" height="20" fill="#a0a0a0" shape-rendering="crispEdges"/><rect x="625" y="1" width="1" height="20" fill="#fff" shape-rendering="crispEdges"/>
<rect x="626" y="1" width="24" height="21" fill="#f8f8f8" shape-rendering="crispEdges"/>
<path d="M632,4 L632,16 L635,13.3 L637.2,18 L639,17.2 L636.9,12.6 L640.6,12.4 Z" fill="#404040"/>
<g shape-rendering="crispEdges" fill="#404040"><rect x="664" y="4" width="1" height="6"/><rect x="664" y="13" width="1" height="6"/><rect x="657" y="11" width="6" height="1"/><rect x="666" y="11" width="6" height="1"/></g>
<rect x="681" y="1" width="1" height="20" fill="#a0a0a0" shape-rendering="crispEdges"/><rect x="682" y="1" width="1" height="20" fill="#fff" shape-rendering="crispEdges"/>
<rect x="698" y="5" width="1" height="13" fill="#404040" shape-rendering="crispEdges"/>
<rect x="721" y="11" width="12" height="1" fill="#404040" shape-rendering="crispEdges"/>
<line x1="748.6" y1="18" x2="761" y2="6" stroke="#404040" stroke-width="1.1"/>
<g stroke="#404040" stroke-width="1" fill="none"><path d="M774,14 l13,-8 M775,17.5 l13,-8 M777.5,15 l2,-7 M781,14 l2,-8 M784.5,12 l2,-8"/></g>
<text x="786.0" y="19.5" font-size="7" fill="#303030" font-weight="bold">E</text>
<g stroke="#505050" stroke-width="1" stroke-dasharray="1,1" shape-rendering="crispEdges"><path d="M804,4.5 h14 M804,8.5 h14 M804,12.5 h14 M804,16.5 h9"/></g>
<text x="814.0" y="19.5" font-size="7" fill="#303030" font-weight="bold">F</text>
<text x="834.5" y="15.5" font-size="11.5" fill="#404040">A</text>
<rect x="861.5" y="4.5" width="11" height="13" fill="none" stroke="#505050" stroke-dasharray="1,1" shape-rendering="crispEdges"/>
<text x="867.0" y="15.5" font-size="10.5" fill="#404040" text-anchor="middle" font-weight="bold">T</text>
<path d="M888.5,8.5 l3.5,-3.5 l3.5,3.5 z M895.5,13.5 l3.5,3.5 l3.5,-3.5 z" fill="#404040"/><path d="M890.5,12.5 l2.5,2.5 l5,-5.5" stroke="#404040" stroke-width="1.3" fill="none"/>
<polygon points="908.5,10.0 914.0,10.0 911.2,13.0" fill="#000"/>
<rect x="920" y="1" width="1" height="20" fill="#a0a0a0" shape-rendering="crispEdges"/><rect x="921" y="1" width="1" height="20" fill="#fff" shape-rendering="crispEdges"/>
<g shape-rendering="crispEdges"><rect x="924" y="2" width="3" height="1" fill="#b0b0b0"/><rect x="924" y="4" width="3" height="1" fill="#b0b0b0"/><rect x="924" y="6" width="3" height="1" fill="#b0b0b0"/><rect x="924" y="8" width="3" height="1" fill="#b0b0b0"/><rect x="924" y="10" width="3" height="1" fill="#b0b0b0"/><rect x="924" y="12" width="3" height="1" fill="#b0b0b0"/><rect x="924" y="14" width="3" height="1" fill="#b0b0b0"/><rect x="924" y="16" width="3" height="1" fill="#b0b0b0"/><rect x="924" y="18" width="3" height="1" fill="#b0b0b0"/><rect x="924" y="20" width="3" height="1" fill="#b0b0b0"/></g>
<rect x="1070" y="2" width="1" height="18" fill="#a0a0a0" shape-rendering="crispEdges"/><rect x="1071" y="2" width="1" height="18" fill="#fff" shape-rendering="crispEdges"/>
<rect x="1071" y="1" width="24" height="21" fill="#f8f8f8" shape-rendering="crispEdges"/>
<text x="935.7" y="14.9" font-size="9.3" fill="#404040" textLength="12.3" lengthAdjust="spacingAndGlyphs">M1</text>
<text x="963.7" y="14.9" font-size="9.3" fill="#404040" textLength="12.3" lengthAdjust="spacingAndGlyphs">M5</text>
<text x="989.0" y="14.9" font-size="9.3" fill="#404040" textLength="17.7" lengthAdjust="spacingAndGlyphs">M15</text>
<text x="1017.0" y="14.9" font-size="9.3" fill="#404040" textLength="17.7" lengthAdjust="spacingAndGlyphs">M30</text>
<text x="1048.8" y="14.9" font-size="9.3" fill="#404040" textLength="11.5" lengthAdjust="spacingAndGlyphs">H1</text>
<text x="1075.5" y="14.9" font-size="9.3" fill="#404040" textLength="12.0" lengthAdjust="spacingAndGlyphs">H4</text>
<text x="1104.6" y="14.9" font-size="9.3" fill="#404040" textLength="11.5" lengthAdjust="spacingAndGlyphs">D1</text>
<text x="1132.0" y="14.9" font-size="9.3" fill="#404040" textLength="14.0" lengthAdjust="spacingAndGlyphs">W1</text>
<text x="1158.6" y="14.9" font-size="9.3" fill="#404040" textLength="14.4" lengthAdjust="spacingAndGlyphs">MN</text>
<rect x="1181" y="1" width="1" height="20" fill="#a0a0a0" shape-rendering="crispEdges"/><rect x="1182" y="1" width="1" height="20" fill="#fff" shape-rendering="crispEdges"/>
<line x1="1648.8" y1="11.2" x2="1644" y2="15.8" stroke="#2050c0" stroke-width="2.4" stroke-linecap="round"/>
<circle cx="1651.7" cy="8.3" r="4" fill="#f4f8ff" stroke="#3060d0" stroke-width="1.2"/>
<path d="M1668.5,13.5 a5.5,4 0 1 1 5,4 l-2.2,2 l0.2,-2.2 a5.5,4 0 0 1 -3,-3.8 z" fill="#e4e6ee" stroke="#b8bcc8" stroke-width="0.8"/>
<circle cx="1682.5" cy="8.3" r="8" fill="url(#badge)"/>
<text x="1682.3" y="13.0" font-size="12.5" fill="#fff" text-anchor="middle">1</text>
</svg>
</body></html>
